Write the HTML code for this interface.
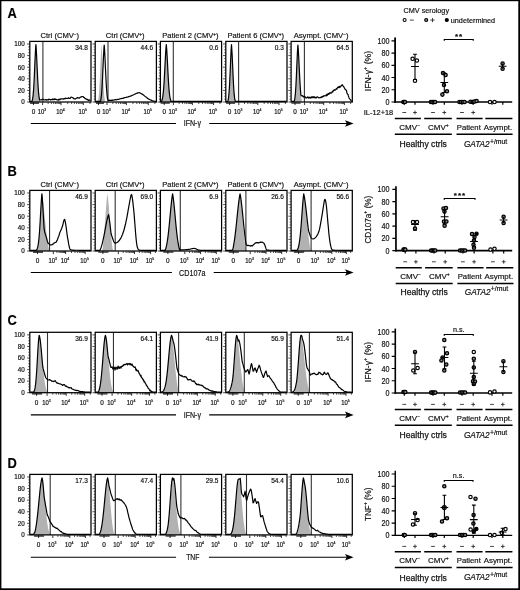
<!DOCTYPE html>
<html lang="en">
<head>
<meta charset="utf-8">
<title>Figure: NK cell responses and CMV serology</title>
<style>
html,body{margin:0;padding:0;background:#fff;}
body{width:520px;height:590px;overflow:hidden;}
svg{display:block;}
svg text{font-family:"Liberation Sans", sans-serif;stroke:#111;stroke-width:0.18px;}
</style>
</head>
<body>
<svg width="520" height="590" viewBox="0 0 520 590" font-family='"Liberation Sans", sans-serif' fill="#111">
<rect x="0" y="0" width="520" height="590" fill="#fff"/>
<rect x="0" y="0" width="520" height="1.2" fill="#000"/>
<rect x="0" y="0" width="1.4" height="590" fill="#000"/>
<rect x="518.3" y="0" width="1.7" height="590" fill="#000"/>
<rect x="0" y="588.3" width="520" height="1.7" fill="#000"/>
<text x="7.6" y="18.2" font-size="14.3" font-weight="bold" fill="#000" textLength="9.3" lengthAdjust="spacingAndGlyphs">A</text>
<text x="7.6" y="176.3" font-size="14.3" font-weight="bold" fill="#000" textLength="9.3" lengthAdjust="spacingAndGlyphs">B</text>
<text x="7.6" y="325.3" font-size="14.3" font-weight="bold" fill="#000" textLength="9.3" lengthAdjust="spacingAndGlyphs">C</text>
<text x="7.6" y="467.5" font-size="14.3" font-weight="bold" fill="#000" textLength="9.3" lengthAdjust="spacingAndGlyphs">D</text>
<path d="M31.8 101.82 L32.3 100.49 L32.8 97.78 L33.3 93.26 L33.8 86.29 L34.3 76.6 L34.8 65.04 L35.3 53.81 L35.9 44.5 L36.3 49.84 L36.8 59.71 L37.3 71.03 L37.8 81.45 L38.3 89.55 L38.8 95.13 L39.3 98.66 L39.8 100.76 L40.3 101.81 L40.3 102 L31.8 102 Z" fill="#b2b2b2" stroke="none"/>
<line x1="42.9" y1="41.4" x2="42.9" y2="102" stroke="#333" stroke-width="1.1"/>
<path d="M30.6 101.4 L31.1 101.4 L31.6 101.4 L32.1 101.18 L32.6 99.05 L33.1 95.33 L33.6 89.41 L34.1 80.78 L34.6 69.77 L35.1 58.08 L35.6 48.38 L35.9 44.5 L36.1 46.83 L36.6 55.44 L37.1 66.49 L37.6 77.51 L38.1 86.63 L38.6 93.18 L39.1 97.45 L39.6 100.06 L40.1 99.87 L40.6 99.79 L41.1 99.79 L41.6 99.91 L42.1 99.26 L42.6 99.12 L43.1 99.31 L43.6 99.4 L44.1 99.72 L44.6 100.01 L45.1 99.77 L45.6 99.66 L46.1 100.18 L46.6 99.51 L47.1 99.99 L47.6 99.96 L48.1 100.11 L48.6 99.22 L49.1 99.43 L49.6 99.28 L50.1 99.49 L50.6 99.97 L51.1 99.67 L51.6 99.47 L52.1 99.78 L52.6 98.99 L53.1 99.47 L53.6 99.62 L54.1 98.99 L54.6 99.57 L55.1 98.83 L55.6 99.36 L56.1 99.37 L56.6 99.66 L57.1 99.63 L57.6 100 L58.1 100.2 L58.6 99.35 L59.1 99.82 L59.6 99.23 L60.1 99.65 L60.6 98.9 L61.1 98.9 L61.6 98.96 L62.1 98.88 L62.6 98.98 L63.1 98.77 L63.6 99.22 L64.1 98.8 L64.6 98.39 L65.1 98.86 L65.6 98.16 L66.1 98.14 L66.6 98.52 L67.1 98.51 L67.6 98.38 L68.1 98.39 L68.6 97.76 L69.1 98.24 L69.6 98.49 L70.1 98.32 L70.6 97.54 L71.1 97.07 L71.6 97.29 L72.1 97.42 L72.6 97.72 L73.1 97.89 L73.6 98.69 L74.1 98.54 L74.6 98.79 L75.1 98.82 L75.6 98.89 L76.1 98.56 L76.6 98.12 L77.1 97.54 L77.6 97.99 L78.1 97.7 L78.6 97.91 L79.1 98.05 L79.6 98.03 L80.1 97.27 L80.6 97.05 L81.1 97.16 L81.6 96.63 L82.1 96.48 L82.6 96.48 L83.1 96.63 L83.6 97.38 L84.1 97.32 L84.6 97.81 L85.1 98.56 L85.6 98.5 L86.1 99.05 L86.6 99.35 L87.1 99.67 L87.6 99.3 L88.1 100.13 L88.6 100.36 L89.1 99.83 L89.6 100 L90.1 100.4" fill="none" stroke="#000" stroke-width="1.2" stroke-linejoin="round" stroke-linecap="round"/>
<rect x="29.8" y="41.4" width="61.2" height="60.6" fill="none" stroke="#000" stroke-width="1.25"/>
<path d="M29.4 102h-2.3M29.4 99.1h-1.1M29.4 96.2h-1.1M29.4 93.3h-1.1M29.4 90.4h-2.3M29.4 87.5h-1.1M29.4 84.6h-1.1M29.4 81.7h-1.1M29.4 78.8h-2.3M29.4 75.9h-1.1M29.4 73h-1.1M29.4 70.1h-1.1M29.4 67.2h-2.3M29.4 64.3h-1.1M29.4 61.4h-1.1M29.4 58.5h-1.1M29.4 55.6h-2.3M29.4 52.7h-1.1M29.4 49.8h-1.1M29.4 46.9h-1.1M29.4 44h-2.3" stroke="#000" stroke-width="0.7" fill="none"/>
<text x="24.7" y="104.3" font-size="6.3" text-anchor="end">0</text>
<text x="24.7" y="92.7" font-size="6.3" text-anchor="end">20</text>
<text x="24.7" y="81.1" font-size="6.3" text-anchor="end">40</text>
<text x="24.7" y="69.5" font-size="6.3" text-anchor="end">60</text>
<text x="24.7" y="57.9" font-size="6.3" text-anchor="end">80</text>
<text x="24.7" y="46.3" font-size="6.3" text-anchor="end">100</text>
<path d="M33.5 102.4v2.7M42.6 102.4v2.7M61 102.4v2.7M83.3 102.4v2.7M48.14 102.4v1.5M51.38 102.4v1.5M53.68 102.4v1.5M55.46 102.4v1.5M56.92 102.4v1.5M58.15 102.4v1.5M59.22 102.4v1.5M60.16 102.4v1.5M67.71 102.4v1.5M71.64 102.4v1.5M74.43 102.4v1.5M76.59 102.4v1.5M78.35 102.4v1.5M79.85 102.4v1.5M81.14 102.4v1.5M82.28 102.4v1.5M90.01 102.4v1.5M30.5 102.4v1.5M31.5 102.4v1.5M32.5 102.4v1.5M33.5 102.4v1.5M34.5 102.4v1.5M35.5 102.4v1.5M36.5 102.4v1.5M37.5 102.4v1.5M38.5 102.4v1.5" stroke="#000" stroke-width="0.8" fill="none"/>
<text x="33.5" y="113.7" font-size="6.4" text-anchor="middle">0</text>
<text x="42" y="113.7" font-size="6.4" text-anchor="middle" textLength="8.5" lengthAdjust="spacingAndGlyphs">10<tspan font-size="3.8" dy="-2.9">3</tspan></text>
<text x="60.4" y="113.7" font-size="6.4" text-anchor="middle" textLength="8.5" lengthAdjust="spacingAndGlyphs">10<tspan font-size="3.8" dy="-2.9">4</tspan></text>
<text x="82.7" y="113.7" font-size="6.4" text-anchor="middle" textLength="8.5" lengthAdjust="spacingAndGlyphs">10<tspan font-size="3.8" dy="-2.9">5</tspan></text>
<text x="87.8" y="50" font-size="6.5" text-anchor="end">34.8</text>
<text x="59.8" y="38.3" font-size="8" text-anchor="middle" textLength="38.6" lengthAdjust="spacingAndGlyphs" stroke="#111" stroke-width="0.12">Ctrl (CMV<tspan font-size="5" dy="-2.8">−</tspan><tspan dy="2.8">)</tspan></text>
<path d="M97.7 101.81 L98.2 100.11 L98.7 96.57 L99.2 90.76 L99.7 82.12 L100.2 70.85 L100.7 58.67 L101.2 48.51 L101.5 44.5 L101.7 46.97 L102.2 56.37 L102.7 68.4 L103.2 80.04 L103.7 89.27 L104.2 95.61 L104.7 99.56 L105.2 101.64 L105.2 102 L97.7 102 Z" fill="#b2b2b2" stroke="none"/>
<line x1="108" y1="41.4" x2="108" y2="102" stroke="#333" stroke-width="1.1"/>
<path d="M96 101.4 L96.5 101.4 L97 101.4 L97.5 101.4 L98 101.4 L98.5 101.4 L99 101.4 L99.5 101.4 L100 101.4 L100.5 101.18 L101 98.78 L101.5 94.62 L102 88.14 L102.5 78.97 L103 67.69 L103.5 56.25 L104 47.36 L104.2 45 L104.5 48.67 L105 57.85 L105.5 69.03 L106 79.79 L106.5 88.47 L107 94.62 L107.5 98.62 L108 100.12 L108.5 100.44 L109 100.49 L109.5 100.1 L110 100.43 L110.5 100.45 L111 100.24 L111.5 100.36 L112 100.14 L112.5 100.34 L113 99.99 L113.5 100.18 L114 100.01 L114.5 99.81 L115 99.85 L115.5 99.69 L116 99.72 L116.5 99.88 L117 99.45 L117.5 99.46 L118 99.48 L118.5 99.42 L119 99.06 L119.5 99.07 L120 98.82 L120.5 98.77 L121 98.57 L121.5 98.6 L122 98.42 L122.5 98.33 L123 98.35 L123.5 97.94 L124 98.08 L124.5 97.74 L125 97.52 L125.5 97.49 L126 97.54 L126.5 97.12 L127 97.03 L127.5 97.08 L128 96.98 L128.5 96.65 L129 96.72 L129.5 96.23 L130 96.26 L130.5 96.13 L131 96.04 L131.5 95.69 L132 95.33 L132.5 95.33 L133 95.05 L133.5 94.72 L134 94.58 L134.5 94.24 L135 94.04 L135.5 93.87 L136 93.55 L136.5 93.39 L137 93.39 L137.5 92.85 L138 92.94 L138.5 92.73 L139 92.72 L139.5 92.72 L140 92.91 L140.5 93.3 L141 93.57 L141.5 93.93 L142 93.84 L142.5 94.48 L143 94.68 L143.5 95.11 L144 95.47 L144.5 95.86 L145 96.32 L145.5 96.79 L146 96.99 L146.5 97.28 L147 97.74 L147.5 98.32 L148 98.52 L148.5 99.08 L149 99.24 L149.5 99.37 L150 99.63 L150.5 100.02 L151 100.06 L151.5 100.4 L152 100.6 L152.5 100.8 L153 101 L153.5 101.08 L154 101.16 L154.5 101.24 L155 101.32 L155.5 101.4" fill="none" stroke="#000" stroke-width="1.2" stroke-linejoin="round" stroke-linecap="round"/>
<rect x="95.2" y="41.4" width="61.2" height="60.6" fill="none" stroke="#000" stroke-width="1.25"/>
<path d="M94.8 102h-2.3M94.8 99.1h-1.1M94.8 96.2h-1.1M94.8 93.3h-1.1M94.8 90.4h-2.3M94.8 87.5h-1.1M94.8 84.6h-1.1M94.8 81.7h-1.1M94.8 78.8h-2.3M94.8 75.9h-1.1M94.8 73h-1.1M94.8 70.1h-1.1M94.8 67.2h-2.3M94.8 64.3h-1.1M94.8 61.4h-1.1M94.8 58.5h-1.1M94.8 55.6h-2.3M94.8 52.7h-1.1M94.8 49.8h-1.1M94.8 46.9h-1.1M94.8 44h-2.3" stroke="#000" stroke-width="0.7" fill="none"/>
<path d="M98.5 102.4v2.7M107 102.4v2.7M126.4 102.4v2.7M148.3 102.4v2.7M112.84 102.4v1.5M116.26 102.4v1.5M118.68 102.4v1.5M120.56 102.4v1.5M122.1 102.4v1.5M123.39 102.4v1.5M124.52 102.4v1.5M125.51 102.4v1.5M132.99 102.4v1.5M136.85 102.4v1.5M139.59 102.4v1.5M141.71 102.4v1.5M143.44 102.4v1.5M144.91 102.4v1.5M146.18 102.4v1.5M147.3 102.4v1.5M154.89 102.4v1.5M96.5 102.4v1.5M97.5 102.4v1.5M98.5 102.4v1.5M99.5 102.4v1.5M100.5 102.4v1.5M101.5 102.4v1.5M102.5 102.4v1.5M103.5 102.4v1.5" stroke="#000" stroke-width="0.8" fill="none"/>
<text x="98.5" y="113.7" font-size="6.4" text-anchor="middle">0</text>
<text x="106.4" y="113.7" font-size="6.4" text-anchor="middle" textLength="8.5" lengthAdjust="spacingAndGlyphs">10<tspan font-size="3.8" dy="-2.9">3</tspan></text>
<text x="125.8" y="113.7" font-size="6.4" text-anchor="middle" textLength="8.5" lengthAdjust="spacingAndGlyphs">10<tspan font-size="3.8" dy="-2.9">4</tspan></text>
<text x="147.7" y="113.7" font-size="6.4" text-anchor="middle" textLength="8.5" lengthAdjust="spacingAndGlyphs">10<tspan font-size="3.8" dy="-2.9">5</tspan></text>
<text x="153.2" y="50" font-size="6.5" text-anchor="end">44.6</text>
<text x="125.2" y="38.3" font-size="8" text-anchor="middle" textLength="38.8" lengthAdjust="spacingAndGlyphs" stroke="#111" stroke-width="0.12">Ctrl (CMV<tspan font-size="5" dy="-2.8">+</tspan><tspan dy="2.8">)</tspan></text>
<path d="M161.4 101.57 L161.9 100.52 L162.4 98.71 L162.9 95.84 L163.4 91.49 L163.9 85.25 L164.4 77.01 L164.9 67.31 L165.4 57.44 L165.9 49.1 L166.3 44.5 L166.9 52.15 L167.4 61.31 L167.9 71.3 L168.4 80.52 L168.9 87.96 L169.4 93.38 L169.9 97.06 L170.4 99.45 L170.9 100.93 L171.4 101.75 L171.4 102 L161.4 102 Z" fill="#b2b2b2" stroke="none"/>
<line x1="173.3" y1="41.4" x2="173.3" y2="102" stroke="#333" stroke-width="1.1"/>
<path d="M161.2 101.4 L161.7 101.02 L162.2 99.54 L162.7 97.14 L163.2 93.43 L163.7 87.99 L164.2 80.53 L164.7 71.3 L165.2 61.3 L165.7 52.14 L166.3 44.5 L166.7 49.11 L167.2 57.45 L167.7 67.32 L168.2 77.01 L168.7 85.22 L169.2 91.44 L169.7 95.77 L170.2 98.62 L170.7 100.43 L171.2 101.4 L171.7 101.4 L172.2 101.4 L172.7 101.4 L173.2 101.4 L173.7 101.4 L174.2 101.4 L174.7 101.4 L175.2 101.4 L175.7 101.4 L176.2 101.4 L176.7 101.4 L177.2 101.4 L177.7 101.4 L178.2 101.4 L178.7 101.4 L179.2 101.4 L179.7 101.4 L180.2 101.4 L180.7 101.4 L181.2 101.4 L181.7 101.4 L182.2 101.4 L182.7 101.4 L183.2 101.4 L183.7 101.4 L184.2 101.4 L184.7 101.4 L185.2 101.4 L185.7 101.4 L186.2 101.4 L186.7 101.4 L187.2 101.4 L187.7 101.4 L188.2 101.4 L188.7 101.4 L189.2 101.4 L189.7 101.4 L190.2 101.4 L190.7 101.4 L191.2 101.4 L191.7 101.4 L192.2 101.4 L192.7 101.4 L193.2 101.4 L193.7 101.4 L194.2 101.4 L194.7 101.4 L195.2 101.4 L195.7 101.4 L196.2 101.4 L196.7 101.4 L197.2 101.4 L197.7 101.4 L198.2 101.4 L198.7 101.4 L199.2 101.4 L199.7 101.4 L200.2 101.4 L200.7 101.4 L201.2 101.4 L201.7 101.4 L202.2 101.4 L202.7 101.4 L203.2 101.4 L203.7 101.4 L204.2 101.4 L204.7 101.4 L205.2 101.4 L205.7 101.4 L206.2 101.4 L206.7 101.4 L207.2 101.4 L207.7 101.4 L208.2 101.4 L208.7 101.4 L209.2 101.4 L209.7 101.4 L210.2 101.4 L210.7 101.4 L211.2 101.4 L211.7 101.4 L212.2 101.4 L212.7 101.4 L213.2 101.4 L213.7 101.4 L214.2 101.4 L214.7 101.4 L215.2 101.4 L215.7 101.4 L216.2 101.4 L216.7 101.4 L217.2 101.4 L217.7 101.4 L218.2 101.4 L218.7 101.4 L219.2 101.4 L219.7 101.4 L220.2 101.4 L220.7 101.4" fill="none" stroke="#000" stroke-width="1.2" stroke-linejoin="round" stroke-linecap="round"/>
<rect x="160.4" y="41.4" width="61.2" height="60.6" fill="none" stroke="#000" stroke-width="1.25"/>
<path d="M160 102h-2.3M160 99.1h-1.1M160 96.2h-1.1M160 93.3h-1.1M160 90.4h-2.3M160 87.5h-1.1M160 84.6h-1.1M160 81.7h-1.1M160 78.8h-2.3M160 75.9h-1.1M160 73h-1.1M160 70.1h-1.1M160 67.2h-2.3M160 64.3h-1.1M160 61.4h-1.1M160 58.5h-1.1M160 55.6h-2.3M160 52.7h-1.1M160 49.8h-1.1M160 46.9h-1.1M160 44h-2.3" stroke="#000" stroke-width="0.7" fill="none"/>
<path d="M164.2 102.4v2.7M173.4 102.4v2.7M192.4 102.4v2.7M213.6 102.4v2.7M179.12 102.4v1.5M182.47 102.4v1.5M184.84 102.4v1.5M186.68 102.4v1.5M188.18 102.4v1.5M189.46 102.4v1.5M190.56 102.4v1.5M191.53 102.4v1.5M198.78 102.4v1.5M202.51 102.4v1.5M205.16 102.4v1.5M207.22 102.4v1.5M208.9 102.4v1.5M210.32 102.4v1.5M211.55 102.4v1.5M212.63 102.4v1.5M219.98 102.4v1.5M161.2 102.4v1.5M162.2 102.4v1.5M163.2 102.4v1.5M164.2 102.4v1.5M165.2 102.4v1.5M166.2 102.4v1.5M167.2 102.4v1.5M168.2 102.4v1.5M169.2 102.4v1.5" stroke="#000" stroke-width="0.8" fill="none"/>
<text x="164.2" y="113.7" font-size="6.4" text-anchor="middle">0</text>
<text x="172.8" y="113.7" font-size="6.4" text-anchor="middle" textLength="8.5" lengthAdjust="spacingAndGlyphs">10<tspan font-size="3.8" dy="-2.9">3</tspan></text>
<text x="191.8" y="113.7" font-size="6.4" text-anchor="middle" textLength="8.5" lengthAdjust="spacingAndGlyphs">10<tspan font-size="3.8" dy="-2.9">4</tspan></text>
<text x="213" y="113.7" font-size="6.4" text-anchor="middle" textLength="8.5" lengthAdjust="spacingAndGlyphs">10<tspan font-size="3.8" dy="-2.9">5</tspan></text>
<text x="218.4" y="50" font-size="6.5" text-anchor="end">0.6</text>
<text x="190.4" y="38.3" font-size="8" text-anchor="middle" textLength="56.3" lengthAdjust="spacingAndGlyphs" stroke="#111" stroke-width="0.12">Patient 2 (CMV<tspan font-size="5" dy="-2.8">+</tspan><tspan dy="2.8">)</tspan></text>
<path d="M227.8 101.5 L228.3 99.38 L228.8 95.48 L229.3 89.2 L229.8 80.02 L230.3 68.41 L230.8 56.4 L231.5 44.5 L231.8 48.37 L232.3 58.06 L232.8 69.77 L233.3 80.8 L233.8 89.47 L234.3 95.44 L234.8 99.2 L235.3 101.32 L235.3 102 L227.8 102 Z" fill="#b2b2b2" stroke="none"/>
<line x1="238.6" y1="41.4" x2="238.6" y2="102" stroke="#333" stroke-width="1.1"/>
<path d="M226.6 101.4 L227.1 101.4 L227.6 101.4 L228.1 100.42 L228.6 97.28 L229.1 92.04 L229.6 84.04 L230.1 73.25 L230.6 61.06 L231.1 50.26 L231.5 44.5 L232.1 53.79 L232.6 65.02 L233.1 76.61 L233.6 86.34 L234.1 93.36 L234.6 97.92 L235.1 100.64 L235.6 101.4 L236.1 101.4 L236.6 101.4 L237.1 101.4 L237.6 101.4 L238.1 101.4 L238.6 101.4 L239.1 101.4 L239.6 101.4 L240.1 101.4 L240.6 101.4 L241.1 101.4 L241.6 101.4 L242.1 101.4 L242.6 101.4 L243.1 101.4 L243.6 101.4 L244.1 101.4 L244.6 101.4 L245.1 101.4 L245.6 101.4 L246.1 101.4 L246.6 101.4 L247.1 101.4 L247.6 101.4 L248.1 101.4 L248.6 101.4 L249.1 101.4 L249.6 101.4 L250.1 101.4 L250.6 101.4 L251.1 101.4 L251.6 101.4 L252.1 101.4 L252.6 101.4 L253.1 101.4 L253.6 101.4 L254.1 101.4 L254.6 101.4 L255.1 101.4 L255.6 101.4 L256.1 101.4 L256.6 101.4 L257.1 101.4 L257.6 101.4 L258.1 101.4 L258.6 101.4 L259.1 101.4 L259.6 101.4 L260.1 101.4 L260.6 101.4 L261.1 101.4 L261.6 101.4 L262.1 101.4 L262.6 101.4 L263.1 101.4 L263.6 101.4 L264.1 101.4 L264.6 101.4 L265.1 101.4 L265.6 101.4 L266.1 101.4 L266.6 101.4 L267.1 101.4 L267.6 101.4 L268.1 101.4 L268.6 101.4 L269.1 101.4 L269.6 101.4 L270.1 101.4 L270.6 101.4 L271.1 101.4 L271.6 101.4 L272.1 101.4 L272.6 101.4 L273.1 101.4 L273.6 101.4 L274.1 101.4 L274.6 101.4 L275.1 101.4 L275.6 101.4 L276.1 101.4 L276.6 101.4 L277.1 101.4 L277.6 101.4 L278.1 101.4 L278.6 101.4 L279.1 101.4 L279.6 101.4 L280.1 101.4 L280.6 101.4 L281.1 101.4 L281.6 101.4 L282.1 101.4 L282.6 101.4 L283.1 101.4 L283.6 101.4 L284.1 101.4 L284.6 101.4 L285.1 101.4 L285.6 101.4 L286.1 101.4" fill="none" stroke="#000" stroke-width="1.2" stroke-linejoin="round" stroke-linecap="round"/>
<rect x="225.8" y="41.4" width="61.2" height="60.6" fill="none" stroke="#000" stroke-width="1.25"/>
<path d="M225.4 102h-2.3M225.4 99.1h-1.1M225.4 96.2h-1.1M225.4 93.3h-1.1M225.4 90.4h-2.3M225.4 87.5h-1.1M225.4 84.6h-1.1M225.4 81.7h-1.1M225.4 78.8h-2.3M225.4 75.9h-1.1M225.4 73h-1.1M225.4 70.1h-1.1M225.4 67.2h-2.3M225.4 64.3h-1.1M225.4 61.4h-1.1M225.4 58.5h-1.1M225.4 55.6h-2.3M225.4 52.7h-1.1M225.4 49.8h-1.1M225.4 46.9h-1.1M225.4 44h-2.3" stroke="#000" stroke-width="0.7" fill="none"/>
<path d="M229.6 102.4v2.7M238.8 102.4v2.7M257.8 102.4v2.7M279 102.4v2.7M244.52 102.4v1.5M247.87 102.4v1.5M250.24 102.4v1.5M252.08 102.4v1.5M253.58 102.4v1.5M254.86 102.4v1.5M255.96 102.4v1.5M256.93 102.4v1.5M264.18 102.4v1.5M267.91 102.4v1.5M270.56 102.4v1.5M272.62 102.4v1.5M274.3 102.4v1.5M275.72 102.4v1.5M276.95 102.4v1.5M278.03 102.4v1.5M285.38 102.4v1.5M226.6 102.4v1.5M227.6 102.4v1.5M228.6 102.4v1.5M229.6 102.4v1.5M230.6 102.4v1.5M231.6 102.4v1.5M232.6 102.4v1.5M233.6 102.4v1.5M234.6 102.4v1.5" stroke="#000" stroke-width="0.8" fill="none"/>
<text x="229.6" y="113.7" font-size="6.4" text-anchor="middle">0</text>
<text x="238.2" y="113.7" font-size="6.4" text-anchor="middle" textLength="8.5" lengthAdjust="spacingAndGlyphs">10<tspan font-size="3.8" dy="-2.9">3</tspan></text>
<text x="257.2" y="113.7" font-size="6.4" text-anchor="middle" textLength="8.5" lengthAdjust="spacingAndGlyphs">10<tspan font-size="3.8" dy="-2.9">4</tspan></text>
<text x="278.4" y="113.7" font-size="6.4" text-anchor="middle" textLength="8.5" lengthAdjust="spacingAndGlyphs">10<tspan font-size="3.8" dy="-2.9">5</tspan></text>
<text x="283.8" y="50" font-size="6.5" text-anchor="end">0.3</text>
<text x="255.8" y="38.3" font-size="8" text-anchor="middle" textLength="56.6" lengthAdjust="spacingAndGlyphs" stroke="#111" stroke-width="0.12">Patient 6 (CMV<tspan font-size="5" dy="-2.8">+</tspan><tspan dy="2.8">)</tspan></text>
<path d="M294.1 101.73 L294.6 99.95 L295.1 96.47 L295.6 90.78 L296.1 82.26 L296.6 71.12 L297.1 59.07 L297.6 48.99 L297.9 45 L298.1 47.09 L298.6 54.86 L299.1 65.02 L299.6 75.54 L300.1 84.73 L300.6 91.76 L301.1 96.67 L301.6 99.87 L302.1 101.64 L302.1 102 L294.1 102 Z" fill="#b2b2b2" stroke="none"/>
<line x1="304.4" y1="41.4" x2="304.4" y2="102" stroke="#333" stroke-width="1.1"/>
<path d="M291.9 101.4 L292.4 101.4 L292.9 101.4 L293.4 101.4 L293.9 101.4 L294.4 100.85 L294.9 98.09 L295.4 93.37 L295.9 86.02 L296.4 75.82 L296.9 63.83 L297.4 52.59 L297.9 45 L298.4 51.37 L298.9 60.79 L299.4 71.42 L299.9 81.29 L300.4 89.22 L300.9 94.94 L301.4 95.83 L301.9 95.59 L302.4 96.12 L302.9 95.81 L303.4 96.96 L303.9 96.5 L304.4 96.85 L304.9 96.72 L305.4 96.96 L305.9 98.03 L306.4 97.84 L306.9 97.8 L307.4 96.96 L307.9 97.22 L308.4 98.04 L308.9 97.11 L309.4 97.99 L309.9 97.28 L310.4 97.93 L310.9 98.07 L311.4 96.81 L311.9 97.69 L312.4 97.65 L312.9 96.53 L313.4 96.76 L313.9 97.67 L314.4 96.83 L314.9 97.53 L315.4 97.43 L315.9 98.19 L316.4 97.13 L316.9 97.41 L317.4 96.96 L317.9 97 L318.4 97.76 L318.9 97.61 L319.4 97.79 L319.9 97.72 L320.4 97.73 L320.9 97.3 L321.4 96.78 L321.9 97.52 L322.4 96.39 L322.9 96.67 L323.4 96.51 L323.9 95.59 L324.4 95.91 L324.9 95.99 L325.4 95.61 L325.9 95.14 L326.4 95.8 L326.9 94.24 L327.4 95.3 L327.9 94.01 L328.4 93.56 L328.9 94.39 L329.4 92.99 L329.9 93.25 L330.4 92.69 L330.9 93.24 L331.4 92.93 L331.9 92.5 L332.4 91.08 L332.9 91.79 L333.4 90.66 L333.9 90.07 L334.4 89.74 L334.9 90.28 L335.4 89.96 L335.9 89.43 L336.4 88.64 L336.9 89.11 L337.4 87.75 L337.9 87.32 L338.4 86.9 L338.9 87.72 L339.4 86.27 L339.9 87.33 L340.4 86.85 L340.9 86.07 L341.4 85.17 L341.9 85.52 L342.4 84.85 L342.9 85.68 L343.4 86.46 L343.9 86.96 L344.4 87.93 L344.9 88.92 L345.4 89.71 L345.9 89.86 L346.4 90.48 L346.9 92.75 L347.4 94.13 L347.9 94.07 L348.4 95.95 L348.9 97.38 L349.4 98.67 L349.9 99.17 L350.4 99.5 L350.9 100.52 L351.4 101.09" fill="none" stroke="#000" stroke-width="1.2" stroke-linejoin="round" stroke-linecap="round"/>
<rect x="291.1" y="41.4" width="61.2" height="60.6" fill="none" stroke="#000" stroke-width="1.25"/>
<path d="M290.7 102h-2.3M290.7 99.1h-1.1M290.7 96.2h-1.1M290.7 93.3h-1.1M290.7 90.4h-2.3M290.7 87.5h-1.1M290.7 84.6h-1.1M290.7 81.7h-1.1M290.7 78.8h-2.3M290.7 75.9h-1.1M290.7 73h-1.1M290.7 70.1h-1.1M290.7 67.2h-2.3M290.7 64.3h-1.1M290.7 61.4h-1.1M290.7 58.5h-1.1M290.7 55.6h-2.3M290.7 52.7h-1.1M290.7 49.8h-1.1M290.7 46.9h-1.1M290.7 44h-2.3" stroke="#000" stroke-width="0.7" fill="none"/>
<path d="M295 102.4v2.7M304.6 102.4v2.7M323.7 102.4v2.7M344.4 102.4v2.7M310.35 102.4v1.5M313.71 102.4v1.5M316.1 102.4v1.5M317.95 102.4v1.5M319.46 102.4v1.5M320.74 102.4v1.5M321.85 102.4v1.5M322.83 102.4v1.5M329.93 102.4v1.5M333.58 102.4v1.5M336.16 102.4v1.5M338.17 102.4v1.5M339.81 102.4v1.5M341.19 102.4v1.5M342.39 102.4v1.5M343.45 102.4v1.5M350.63 102.4v1.5M292 102.4v1.5M293 102.4v1.5M294 102.4v1.5M295 102.4v1.5M296 102.4v1.5M297 102.4v1.5M298 102.4v1.5M299 102.4v1.5M300 102.4v1.5" stroke="#000" stroke-width="0.8" fill="none"/>
<text x="295" y="113.7" font-size="6.4" text-anchor="middle">0</text>
<text x="304" y="113.7" font-size="6.4" text-anchor="middle" textLength="8.5" lengthAdjust="spacingAndGlyphs">10<tspan font-size="3.8" dy="-2.9">3</tspan></text>
<text x="323.1" y="113.7" font-size="6.4" text-anchor="middle" textLength="8.5" lengthAdjust="spacingAndGlyphs">10<tspan font-size="3.8" dy="-2.9">4</tspan></text>
<text x="343.8" y="113.7" font-size="6.4" text-anchor="middle" textLength="8.5" lengthAdjust="spacingAndGlyphs">10<tspan font-size="3.8" dy="-2.9">5</tspan></text>
<text x="349.1" y="50" font-size="6.5" text-anchor="end">64.5</text>
<text x="321.1" y="38.3" font-size="8" text-anchor="middle" textLength="54.9" lengthAdjust="spacingAndGlyphs" stroke="#111" stroke-width="0.12">Asympt. (CMV<tspan font-size="5" dy="-2.8">−</tspan><tspan dy="2.8">)</tspan></text>
<path d="M30.8 123.5 H176 M209.2 123.5 H347" stroke="#000" stroke-width="1.15" fill="none"/>
<path d="M353.6 123.5 L345 120.2 L346.8 123.5 L345 126.8 Z" fill="#000"/>
<text x="192.35" y="126.3" font-size="8.9" text-anchor="middle" textLength="17.3" lengthAdjust="spacingAndGlyphs" stroke="#111" stroke-width="0.2">IFN-γ</text>
<path d="M35.8 250.79 L36.3 250.34 L36.8 249.58 L37.3 248.39 L37.8 246.6 L38.3 243.94 L38.8 240.06 L39.3 234.6 L39.8 227.42 L40.3 218.84 L40.8 209.72 L41.3 201.31 L41.9 193.8 L42.3 195.8 L42.8 199.03 L43.3 202.97 L43.8 207.47 L44.3 212.35 L44.8 217.39 L45.3 222.4 L45.8 227.23 L46.3 231.74 L46.8 235.86 L47.3 239.57 L47.8 242.85 L48.3 245.72 L48.8 248.2 L49.3 249.93 L49.8 250.32 L50.3 250.58 L50.8 250.75 L50.8 251 L35.8 251 Z" fill="#b2b2b2" stroke="none"/>
<line x1="49.55" y1="190.4" x2="49.55" y2="251" stroke="#333" stroke-width="1.1"/>
<path d="M30.6 250.4 L31.1 250.4 L31.6 250.4 L32.1 250.4 L32.6 250.4 L33.1 250.4 L33.6 250.4 L34.1 250.4 L34.6 250.4 L35.1 250.4 L35.6 250.4 L36.1 250.4 L36.6 249.93 L37.1 248.92 L37.6 247.4 L38.1 245.13 L38.6 241.78 L39.1 236.99 L39.6 230.49 L40.1 222.4 L40.6 213.36 L41.1 204.5 L41.6 197.12 L41.9 193.8 L42.1 195.91 L42.6 202.87 L43.1 211.53 L43.6 220.64 L44.1 228.99 L44.6 231.53 L45.1 233.49 L45.6 234.92 L46.1 236.58 L46.6 238.27 L47.1 240.27 L47.6 241.72 L48.1 243.21 L48.6 243.56 L49.1 243.96 L49.6 244.62 L50.1 244.95 L50.6 244.89 L51.1 244.9 L51.6 244.93 L52.1 244.74 L52.6 244.19 L53.1 244.08 L53.6 243.7 L54.1 242.95 L54.6 242.9 L55.1 242.49 L55.6 242.37 L56.1 242.16 L56.6 241.16 L57.1 240.47 L57.6 239.24 L58.1 237.6 L58.6 236.53 L59.1 235.25 L59.6 233.15 L60.1 231.9 L60.6 230.84 L61.1 229.75 L61.6 228.65 L62.1 227.04 L62.6 225.78 L63.1 223.62 L63.6 221.67 L64.1 219.93 L64.6 219.27 L65.1 220.83 L65.6 223.53 L66.1 226.83 L66.6 230.77 L67.1 234.55 L67.6 237.82 L68.1 240.45 L68.6 243.69 L69.1 246.12 L69.6 248.15 L70.1 249.37 L70.6 249.56 L71.1 249.79 L71.6 250.02 L72.1 250.2 L72.6 250.21 L73.1 250.21 L73.6 250.22 L74.1 250.22 L74.6 250.23 L75.1 250.23 L75.6 250.24 L76.1 250.25 L76.6 250.25 L77.1 250.26 L77.6 250.26 L78.1 250.27 L78.6 250.27 L79.1 250.28 L79.6 250.28 L80.1 250.29 L80.6 250.3 L81.1 250.3 L81.6 250.31 L82.1 250.31 L82.6 250.32 L83.1 250.32 L83.6 250.33 L84.1 250.33 L84.6 250.34 L85.1 250.35 L85.6 250.35 L86.1 250.36 L86.6 250.36 L87.1 250.37 L87.6 250.37 L88.1 250.38 L88.6 250.38 L89.1 250.39 L89.6 250.4 L90.1 250.4" fill="none" stroke="#000" stroke-width="1.2" stroke-linejoin="round" stroke-linecap="round"/>
<rect x="29.8" y="190.4" width="61.2" height="60.6" fill="none" stroke="#000" stroke-width="1.25"/>
<path d="M29.4 251h-2.3M29.4 248.1h-1.1M29.4 245.2h-1.1M29.4 242.3h-1.1M29.4 239.4h-2.3M29.4 236.5h-1.1M29.4 233.6h-1.1M29.4 230.7h-1.1M29.4 227.8h-2.3M29.4 224.9h-1.1M29.4 222h-1.1M29.4 219.1h-1.1M29.4 216.2h-2.3M29.4 213.3h-1.1M29.4 210.4h-1.1M29.4 207.5h-1.1M29.4 204.6h-2.3M29.4 201.7h-1.1M29.4 198.8h-1.1M29.4 195.9h-1.1M29.4 193h-2.3" stroke="#000" stroke-width="0.7" fill="none"/>
<text x="24.7" y="253.3" font-size="6.3" text-anchor="end">0</text>
<text x="24.7" y="241.7" font-size="6.3" text-anchor="end">20</text>
<text x="24.7" y="230.1" font-size="6.3" text-anchor="end">40</text>
<text x="24.7" y="218.5" font-size="6.3" text-anchor="end">60</text>
<text x="24.7" y="206.9" font-size="6.3" text-anchor="end">80</text>
<text x="24.7" y="195.3" font-size="6.3" text-anchor="end">100</text>
<path d="M37.5 251.4v2.7M53.3 251.4v2.7M65.6 251.4v2.7M85.2 251.4v2.7M57 251.4v1.5M59.17 251.4v1.5M60.71 251.4v1.5M61.9 251.4v1.5M62.87 251.4v1.5M63.69 251.4v1.5M64.41 251.4v1.5M65.04 251.4v1.5M71.5 251.4v1.5M74.95 251.4v1.5M77.4 251.4v1.5M79.3 251.4v1.5M80.85 251.4v1.5M82.16 251.4v1.5M83.3 251.4v1.5M84.3 251.4v1.5M33.5 251.4v1.5M34.5 251.4v1.5M35.5 251.4v1.5M36.5 251.4v1.5M37.5 251.4v1.5M38.5 251.4v1.5M39.5 251.4v1.5M40.5 251.4v1.5M41.5 251.4v1.5M42.5 251.4v1.5" stroke="#000" stroke-width="0.8" fill="none"/>
<text x="37.5" y="262.7" font-size="6.4" text-anchor="middle">0</text>
<text x="52.7" y="262.7" font-size="6.4" text-anchor="middle" textLength="8.5" lengthAdjust="spacingAndGlyphs">10<tspan font-size="3.8" dy="-2.9">3</tspan></text>
<text x="65" y="262.7" font-size="6.4" text-anchor="middle" textLength="8.5" lengthAdjust="spacingAndGlyphs">10<tspan font-size="3.8" dy="-2.9">4</tspan></text>
<text x="84.6" y="262.7" font-size="6.4" text-anchor="middle" textLength="8.5" lengthAdjust="spacingAndGlyphs">10<tspan font-size="3.8" dy="-2.9">5</tspan></text>
<text x="87.8" y="199" font-size="6.5" text-anchor="end">46.9</text>
<text x="59.8" y="187.3" font-size="8" text-anchor="middle" textLength="38.6" lengthAdjust="spacingAndGlyphs" stroke="#111" stroke-width="0.12">Ctrl (CMV<tspan font-size="5" dy="-2.8">−</tspan><tspan dy="2.8">)</tspan></text>
<path d="M101.2 250.72 L101.7 250.43 L102.2 249.9 L102.7 248.41 L103.2 244.01 L103.7 238.96 L104.2 233.16 L104.7 226.64 L105.2 219.59 L105.7 212.4 L106.2 205.58 L106.7 199.7 L107.2 195.23 L107.4 193.9 L107.7 195.81 L108.2 200.11 L108.7 205.58 L109.2 211.85 L109.7 218.48 L110.2 225.05 L110.7 231.22 L111.2 236.82 L111.7 241.77 L112.2 246.12 L112.7 249.4 L113.2 250.09 L113.7 250.51 L114.2 250.75 L114.2 251 L101.2 251 Z" fill="#b2b2b2" stroke="none"/>
<line x1="115.2" y1="190.4" x2="115.2" y2="251" stroke="#333" stroke-width="1.1"/>
<path d="M96 250.4 L96.5 250.4 L97 250.4 L97.5 250.4 L98 250.4 L98.5 250.4 L99 250.4 L99.5 250.4 L100 250.17 L100.5 249.04 L101 247.69 L101.5 246.16 L102 244.45 L102.5 242.54 L103 240.44 L103.5 238.14 L104 235.68 L104.5 233.07 L105 230.37 L105.5 227.63 L106 224.94 L106.5 222.37 L107 220 L107.5 217.89 L108 216.12 L108.55 214.6 L109 216.87 L109.5 220.27 L110 224.36 L110.5 228.81 L111 233.23 L111.5 235.08 L112 236.54 L112.5 238 L113 239.46 L113.5 240.92 L114 242.03 L114.5 242.61 L115 243.18 L115.5 243.15 L116 242.97 L116.5 242.78 L117 242.6 L117.5 242.15 L118 241.7 L118.5 241.25 L119 240.8 L119.5 240.05 L120 239.3 L120.5 238.55 L121 237.8 L121.5 236.71 L122 235.61 L122.5 234.52 L123 233.07 L123.5 231.54 L124 230 L124.5 228 L125 226 L125.5 224 L126 221.69 L126.5 219.38 L127 216.87 L127.5 214.03 L128 211.2 L128.5 208.35 L129 205.5 L129.5 202.75 L130 200 L130.5 197.5 L131 195.4 L131.5 194.5 L132 196 L132.5 199.21 L133 203.29 L133.5 207.99 L134 212.91 L134.5 219.1 L135 225.57 L135.5 232 L136 237.71 L136.5 242.55 L137 245.87 L137.5 247.81 L138 248.84 L138.5 249.64 L139 249.94 L139.5 250.12 L140 250.3 L140.5 250.3 L141 250.31 L141.5 250.31 L142 250.31 L142.5 250.32 L143 250.32 L143.5 250.32 L144 250.33 L144.5 250.33 L145 250.33 L145.5 250.34 L146 250.34 L146.5 250.34 L147 250.35 L147.5 250.35 L148 250.35 L148.5 250.36 L149 250.36 L149.5 250.36 L150 250.37 L150.5 250.37 L151 250.37 L151.5 250.38 L152 250.38 L152.5 250.38 L153 250.39 L153.5 250.39 L154 250.39 L154.5 250.4 L155 250.4 L155.5 250.4" fill="none" stroke="#000" stroke-width="1.2" stroke-linejoin="round" stroke-linecap="round"/>
<rect x="95.2" y="190.4" width="61.2" height="60.6" fill="none" stroke="#000" stroke-width="1.25"/>
<path d="M94.8 251h-2.3M94.8 248.1h-1.1M94.8 245.2h-1.1M94.8 242.3h-1.1M94.8 239.4h-2.3M94.8 236.5h-1.1M94.8 233.6h-1.1M94.8 230.7h-1.1M94.8 227.8h-2.3M94.8 224.9h-1.1M94.8 222h-1.1M94.8 219.1h-1.1M94.8 216.2h-2.3M94.8 213.3h-1.1M94.8 210.4h-1.1M94.8 207.5h-1.1M94.8 204.6h-2.3M94.8 201.7h-1.1M94.8 198.8h-1.1M94.8 195.9h-1.1M94.8 193h-2.3" stroke="#000" stroke-width="0.7" fill="none"/>
<path d="M102.9 251.4v2.7M118.3 251.4v2.7M134.5 251.4v2.7M150.6 251.4v2.7M123.18 251.4v1.5M126.03 251.4v1.5M128.05 251.4v1.5M129.62 251.4v1.5M130.91 251.4v1.5M131.99 251.4v1.5M132.93 251.4v1.5M133.76 251.4v1.5M139.35 251.4v1.5M142.18 251.4v1.5M144.19 251.4v1.5M145.75 251.4v1.5M147.03 251.4v1.5M148.11 251.4v1.5M149.04 251.4v1.5M149.86 251.4v1.5M155.45 251.4v1.5M98.9 251.4v1.5M99.9 251.4v1.5M100.9 251.4v1.5M101.9 251.4v1.5M102.9 251.4v1.5M103.9 251.4v1.5M104.9 251.4v1.5M105.9 251.4v1.5M106.9 251.4v1.5M107.9 251.4v1.5" stroke="#000" stroke-width="0.8" fill="none"/>
<text x="102.9" y="262.7" font-size="6.4" text-anchor="middle">0</text>
<text x="117.7" y="262.7" font-size="6.4" text-anchor="middle" textLength="8.5" lengthAdjust="spacingAndGlyphs">10<tspan font-size="3.8" dy="-2.9">3</tspan></text>
<text x="133.9" y="262.7" font-size="6.4" text-anchor="middle" textLength="8.5" lengthAdjust="spacingAndGlyphs">10<tspan font-size="3.8" dy="-2.9">4</tspan></text>
<text x="150" y="262.7" font-size="6.4" text-anchor="middle" textLength="8.5" lengthAdjust="spacingAndGlyphs">10<tspan font-size="3.8" dy="-2.9">5</tspan></text>
<text x="153.2" y="199" font-size="6.5" text-anchor="end">69.0</text>
<text x="125.2" y="187.3" font-size="8" text-anchor="middle" textLength="38.8" lengthAdjust="spacingAndGlyphs" stroke="#111" stroke-width="0.12">Ctrl (CMV<tspan font-size="5" dy="-2.8">+</tspan><tspan dy="2.8">)</tspan></text>
<path d="M164.4 250.78 L164.9 250.6 L165.4 249.6 L165.9 248.05 L166.4 246.06 L166.9 243.61 L167.4 240.66 L167.9 237.17 L168.4 233.12 L168.9 228.54 L169.4 223.5 L169.9 218.16 L170.4 212.71 L170.9 207.41 L171.4 202.54 L171.9 198.33 L172.6 193.9 L172.9 195.55 L173.4 199.06 L173.9 203.4 L174.4 208.38 L174.9 213.74 L175.4 219.22 L175.9 224.56 L176.4 229.57 L176.9 234.12 L177.4 238.13 L177.9 241.61 L178.4 244.55 L178.9 247.01 L179.4 248.99 L179.9 250.39 L180.4 250.65 L180.9 250.8 L180.9 251 L164.4 251 Z" fill="#b2b2b2" stroke="none"/>
<line x1="180.3" y1="190.4" x2="180.3" y2="251" stroke="#333" stroke-width="1.1"/>
<path d="M161.2 250.4 L161.7 250.4 L162.2 250.4 L162.7 250.4 L163.2 250.4 L163.7 250.4 L164.2 250.4 L164.7 250.4 L165.2 250.09 L165.7 248.72 L166.2 246.91 L166.7 244.64 L167.2 241.9 L167.7 238.63 L168.2 234.81 L168.7 230.43 L169.2 225.56 L169.7 220.32 L170.2 214.88 L170.7 209.5 L171.2 204.42 L171.7 199.92 L172.2 196.21 L172.6 193.9 L173.2 197.54 L173.7 201.57 L174.2 206.33 L174.7 211.57 L175.2 217.03 L175.7 222.45 L176.2 227.61 L176.7 232.36 L177.2 236.59 L177.7 240.28 L178.2 243.44 L178.7 246.08 L179.2 248.26 L179.7 249.93 L180.2 249.98 L180.7 249.97 L181.2 249.95 L181.7 249.94 L182.2 249.92 L182.7 249.91 L183.2 249.88 L183.7 249.85 L184.2 249.81 L184.7 249.77 L185.2 249.73 L185.7 249.7 L186.2 249.66 L186.7 249.62 L187.2 249.57 L187.7 249.51 L188.2 249.44 L188.7 249.37 L189.2 249.31 L189.7 249.24 L190.2 249.15 L190.7 249.03 L191.2 248.91 L191.7 248.79 L192.2 248.67 L192.7 248.58 L193.2 248.52 L193.7 248.47 L194.2 248.41 L194.7 248.49 L195.2 248.61 L195.7 248.73 L196.2 248.91 L196.7 249.17 L197.2 249.44 L197.7 249.66 L198.2 249.81 L198.7 249.97 L199.2 250.12 L199.7 250.27 L200.2 250.3 L200.7 250.3 L201.2 250.31 L201.7 250.31 L202.2 250.31 L202.7 250.31 L203.2 250.32 L203.7 250.32 L204.2 250.32 L204.7 250.32 L205.2 250.33 L205.7 250.33 L206.2 250.33 L206.7 250.33 L207.2 250.34 L207.7 250.34 L208.2 250.34 L208.7 250.34 L209.2 250.35 L209.7 250.35 L210.2 250.35 L210.7 250.35 L211.2 250.36 L211.7 250.36 L212.2 250.36 L212.7 250.36 L213.2 250.37 L213.7 250.37 L214.2 250.37 L214.7 250.37 L215.2 250.38 L215.7 250.38 L216.2 250.38 L216.7 250.38 L217.2 250.39 L217.7 250.39 L218.2 250.39 L218.7 250.39 L219.2 250.4 L219.7 250.4 L220.2 250.4 L220.7 250.4" fill="none" stroke="#000" stroke-width="1.2" stroke-linejoin="round" stroke-linecap="round"/>
<rect x="160.4" y="190.4" width="61.2" height="60.6" fill="none" stroke="#000" stroke-width="1.25"/>
<path d="M160 251h-2.3M160 248.1h-1.1M160 245.2h-1.1M160 242.3h-1.1M160 239.4h-2.3M160 236.5h-1.1M160 233.6h-1.1M160 230.7h-1.1M160 227.8h-2.3M160 224.9h-1.1M160 222h-1.1M160 219.1h-1.1M160 216.2h-2.3M160 213.3h-1.1M160 210.4h-1.1M160 207.5h-1.1M160 204.6h-2.3M160 201.7h-1.1M160 198.8h-1.1M160 195.9h-1.1M160 193h-2.3" stroke="#000" stroke-width="0.7" fill="none"/>
<path d="M167.9 251.4v2.7M184.8 251.4v2.7M200.6 251.4v2.7M216.3 251.4v2.7M189.56 251.4v1.5M192.34 251.4v1.5M194.31 251.4v1.5M195.84 251.4v1.5M197.09 251.4v1.5M198.15 251.4v1.5M199.07 251.4v1.5M199.88 251.4v1.5M205.33 251.4v1.5M208.09 251.4v1.5M210.05 251.4v1.5M211.57 251.4v1.5M212.82 251.4v1.5M213.87 251.4v1.5M214.78 251.4v1.5M215.58 251.4v1.5M221.03 251.4v1.5M163.9 251.4v1.5M164.9 251.4v1.5M165.9 251.4v1.5M166.9 251.4v1.5M167.9 251.4v1.5M168.9 251.4v1.5M169.9 251.4v1.5M170.9 251.4v1.5M171.9 251.4v1.5M172.9 251.4v1.5" stroke="#000" stroke-width="0.8" fill="none"/>
<text x="167.9" y="262.7" font-size="6.4" text-anchor="middle">0</text>
<text x="184.2" y="262.7" font-size="6.4" text-anchor="middle" textLength="8.5" lengthAdjust="spacingAndGlyphs">10<tspan font-size="3.8" dy="-2.9">3</tspan></text>
<text x="200" y="262.7" font-size="6.4" text-anchor="middle" textLength="8.5" lengthAdjust="spacingAndGlyphs">10<tspan font-size="3.8" dy="-2.9">4</tspan></text>
<text x="215.7" y="262.7" font-size="6.4" text-anchor="middle" textLength="8.5" lengthAdjust="spacingAndGlyphs">10<tspan font-size="3.8" dy="-2.9">5</tspan></text>
<text x="218.4" y="199" font-size="6.5" text-anchor="end">6.9</text>
<text x="190.4" y="187.3" font-size="8" text-anchor="middle" textLength="56.3" lengthAdjust="spacingAndGlyphs" stroke="#111" stroke-width="0.12">Patient 2 (CMV<tspan font-size="5" dy="-2.8">+</tspan><tspan dy="2.8">)</tspan></text>
<path d="M230.8 250.77 L231.3 250.63 L231.8 250.39 L232.3 250.05 L232.8 249.54 L233.3 247.12 L233.8 244.31 L234.3 241.16 L234.8 237.63 L235.3 233.72 L235.8 229.44 L236.3 224.84 L236.8 220.02 L237.3 215.1 L237.8 210.25 L238.3 205.64 L238.8 201.47 L239.3 197.89 L239.8 195.03 L240.05 193.9 L240.3 195.33 L240.8 199.11 L241.3 203.96 L241.8 209.59 L242.3 215.67 L242.8 221.84 L243.3 227.8 L243.8 233.34 L244.3 238.34 L244.8 242.78 L245.3 246.72 L245.8 249.47 L246.3 250.1 L246.8 250.49 L247.3 250.73 L247.3 251 L230.8 251 Z" fill="#b2b2b2" stroke="none"/>
<line x1="245.9" y1="190.4" x2="245.9" y2="251" stroke="#333" stroke-width="1.1"/>
<path d="M226.6 250.4 L227.1 250.4 L227.6 250.4 L228.1 250.4 L228.6 250.4 L229.1 250.4 L229.6 250.4 L230.1 250.4 L230.6 250.4 L231.1 250.4 L231.6 250.4 L232.1 250.2 L232.6 249.77 L233.1 248.14 L233.6 245.48 L234.1 242.46 L234.6 239.09 L235.1 235.33 L235.6 231.19 L236.1 226.71 L236.6 221.97 L237.1 217.07 L237.6 212.17 L238.1 207.44 L238.6 203.07 L239.1 199.24 L239.6 196.09 L240.05 193.9 L240.6 196.72 L241.1 200.14 L241.6 204.24 L242.1 208.87 L242.6 213.83 L243.1 218.91 L243.6 223.95 L244.1 228.78 L244.6 233.3 L245.1 237.47 L245.6 241.25 L246.1 244.22 L246.6 245.14 L247.1 245.15 L247.6 245.62 L248.1 245.41 L248.6 245.37 L249.1 245.74 L249.6 245.72 L250.1 245.86 L250.6 246.21 L251.1 245.65 L251.6 245.69 L252.1 245.82 L252.6 245.93 L253.1 244.92 L253.6 244.78 L254.1 244.18 L254.6 243.65 L255.1 243.33 L255.6 242.75 L256.1 242.79 L256.6 242.61 L257.1 242.96 L257.6 242.66 L258.1 242.53 L258.6 242.92 L259.1 242.74 L259.6 242.62 L260.1 242.03 L260.6 242.34 L261.1 242.14 L261.6 242.3 L262.1 242.09 L262.6 242.44 L263.1 242.73 L263.6 242.83 L264.1 243.57 L264.6 244.4 L265.1 245.95 L265.6 247.4 L266.1 248.9 L266.6 249.9 L267.1 250.2 L267.6 250.21 L268.1 250.21 L268.6 250.22 L269.1 250.22 L269.6 250.23 L270.1 250.23 L270.6 250.24 L271.1 250.24 L271.6 250.25 L272.1 250.26 L272.6 250.26 L273.1 250.27 L273.6 250.27 L274.1 250.28 L274.6 250.28 L275.1 250.29 L275.6 250.29 L276.1 250.3 L276.6 250.3 L277.1 250.31 L277.6 250.31 L278.1 250.32 L278.6 250.32 L279.1 250.33 L279.6 250.33 L280.1 250.34 L280.6 250.34 L281.1 250.35 L281.6 250.35 L282.1 250.36 L282.6 250.36 L283.1 250.37 L283.6 250.38 L284.1 250.38 L284.6 250.39 L285.1 250.39 L285.6 250.4 L286.1 250.4" fill="none" stroke="#000" stroke-width="1.2" stroke-linejoin="round" stroke-linecap="round"/>
<rect x="225.8" y="190.4" width="61.2" height="60.6" fill="none" stroke="#000" stroke-width="1.25"/>
<path d="M225.4 251h-2.3M225.4 248.1h-1.1M225.4 245.2h-1.1M225.4 242.3h-1.1M225.4 239.4h-2.3M225.4 236.5h-1.1M225.4 233.6h-1.1M225.4 230.7h-1.1M225.4 227.8h-2.3M225.4 224.9h-1.1M225.4 222h-1.1M225.4 219.1h-1.1M225.4 216.2h-2.3M225.4 213.3h-1.1M225.4 210.4h-1.1M225.4 207.5h-1.1M225.4 204.6h-2.3M225.4 201.7h-1.1M225.4 198.8h-1.1M225.4 195.9h-1.1M225.4 193h-2.3" stroke="#000" stroke-width="0.7" fill="none"/>
<path d="M233.3 251.4v2.7M250.2 251.4v2.7M266 251.4v2.7M281.7 251.4v2.7M254.96 251.4v1.5M257.74 251.4v1.5M259.71 251.4v1.5M261.24 251.4v1.5M262.49 251.4v1.5M263.55 251.4v1.5M264.47 251.4v1.5M265.28 251.4v1.5M270.73 251.4v1.5M273.49 251.4v1.5M275.45 251.4v1.5M276.97 251.4v1.5M278.22 251.4v1.5M279.27 251.4v1.5M280.18 251.4v1.5M280.98 251.4v1.5M286.43 251.4v1.5M229.3 251.4v1.5M230.3 251.4v1.5M231.3 251.4v1.5M232.3 251.4v1.5M233.3 251.4v1.5M234.3 251.4v1.5M235.3 251.4v1.5M236.3 251.4v1.5M237.3 251.4v1.5M238.3 251.4v1.5" stroke="#000" stroke-width="0.8" fill="none"/>
<text x="233.3" y="262.7" font-size="6.4" text-anchor="middle">0</text>
<text x="249.6" y="262.7" font-size="6.4" text-anchor="middle" textLength="8.5" lengthAdjust="spacingAndGlyphs">10<tspan font-size="3.8" dy="-2.9">3</tspan></text>
<text x="265.4" y="262.7" font-size="6.4" text-anchor="middle" textLength="8.5" lengthAdjust="spacingAndGlyphs">10<tspan font-size="3.8" dy="-2.9">4</tspan></text>
<text x="281.1" y="262.7" font-size="6.4" text-anchor="middle" textLength="8.5" lengthAdjust="spacingAndGlyphs">10<tspan font-size="3.8" dy="-2.9">5</tspan></text>
<text x="283.8" y="199" font-size="6.5" text-anchor="end">26.6</text>
<text x="255.8" y="187.3" font-size="8" text-anchor="middle" textLength="56.6" lengthAdjust="spacingAndGlyphs" stroke="#111" stroke-width="0.12">Patient 6 (CMV<tspan font-size="5" dy="-2.8">+</tspan><tspan dy="2.8">)</tspan></text>
<path d="M297.1 250.47 L297.6 249.59 L298.1 248.28 L298.6 246.46 L299.1 244.01 L299.6 240.81 L300.1 236.72 L300.6 231.67 L301.1 225.71 L301.6 219.07 L302.1 212.14 L302.6 205.45 L303.1 199.58 L303.75 193.9 L304.1 195.64 L304.6 198.86 L305.1 202.87 L305.6 207.49 L306.1 212.53 L306.6 217.76 L307.1 222.97 L307.6 227.99 L308.1 232.71 L308.6 237.04 L309.1 240.98 L309.6 244.52 L310.1 247.73 L310.6 249.56 L311.1 250.08 L311.6 250.44 L312.1 250.66 L312.6 250.8 L312.6 251 L297.1 251 Z" fill="#b2b2b2" stroke="none"/>
<line x1="311.1" y1="190.4" x2="311.1" y2="251" stroke="#333" stroke-width="1.1"/>
<path d="M291.9 250.4 L292.4 250.4 L292.9 250.4 L293.4 250.4 L293.9 250.4 L294.4 250.4 L294.9 250.4 L295.4 250.4 L295.9 250.4 L296.4 250.4 L296.9 250.4 L297.4 249.99 L297.9 248.86 L298.4 247.25 L298.9 245.07 L299.4 242.19 L299.9 238.47 L300.4 233.8 L300.9 228.19 L301.4 221.78 L301.9 214.91 L302.4 208.06 L302.9 201.8 L303.4 196.65 L303.75 193.9 L304.4 197.11 L304.9 200.3 L305.4 204.03 L305.9 208.17 L306.4 212.57 L306.9 217.09 L307.4 221.57 L307.9 225.89 L308.4 229.96 L308.9 231.7 L309.4 233.2 L309.9 234.7 L310.4 236.2 L310.9 237.22 L311.4 238.12 L311.9 238.52 L312.4 238.78 L312.9 238.97 L313.4 238.85 L313.9 238.72 L314.4 238.42 L314.9 238.07 L315.4 237.6 L315.9 237.1 L316.4 236.4 L316.9 235.65 L317.4 234.82 L317.9 233.97 L318.4 232.82 L318.9 231.6 L319.4 229.66 L319.9 227.37 L320.4 224.56 L320.9 221.78 L321.4 219 L321.9 216.17 L322.4 213.2 L322.9 209.7 L323.4 206.5 L323.9 203.42 L324.4 200.5 L324.9 199.25 L325.4 200.14 L325.9 202.33 L326.4 206 L326.9 211 L327.4 216.97 L327.9 222.79 L328.4 228 L328.9 233.83 L329.4 238 L329.9 241.59 L330.4 244.51 L330.9 246.66 L331.4 248.61 L331.9 249.48 L332.4 250.08 L332.9 250.2 L333.4 250.21 L333.9 250.22 L334.4 250.22 L334.9 250.23 L335.4 250.23 L335.9 250.24 L336.4 250.24 L336.9 250.25 L337.4 250.25 L337.9 250.26 L338.4 250.26 L338.9 250.27 L339.4 250.27 L339.9 250.28 L340.4 250.29 L340.9 250.29 L341.4 250.3 L341.9 250.3 L342.4 250.31 L342.9 250.31 L343.4 250.32 L343.9 250.32 L344.4 250.33 L344.9 250.33 L345.4 250.34 L345.9 250.34 L346.4 250.35 L346.9 250.36 L347.4 250.36 L347.9 250.37 L348.4 250.37 L348.9 250.38 L349.4 250.38 L349.9 250.39 L350.4 250.39 L350.9 250.4 L351.4 250.4" fill="none" stroke="#000" stroke-width="1.2" stroke-linejoin="round" stroke-linecap="round"/>
<rect x="291.1" y="190.4" width="61.2" height="60.6" fill="none" stroke="#000" stroke-width="1.25"/>
<path d="M290.7 251h-2.3M290.7 248.1h-1.1M290.7 245.2h-1.1M290.7 242.3h-1.1M290.7 239.4h-2.3M290.7 236.5h-1.1M290.7 233.6h-1.1M290.7 230.7h-1.1M290.7 227.8h-2.3M290.7 224.9h-1.1M290.7 222h-1.1M290.7 219.1h-1.1M290.7 216.2h-2.3M290.7 213.3h-1.1M290.7 210.4h-1.1M290.7 207.5h-1.1M290.7 204.6h-2.3M290.7 201.7h-1.1M290.7 198.8h-1.1M290.7 195.9h-1.1M290.7 193h-2.3" stroke="#000" stroke-width="0.7" fill="none"/>
<path d="M298.6 251.4v2.7M315.5 251.4v2.7M331.8 251.4v2.7M346.3 251.4v2.7M320.41 251.4v1.5M323.28 251.4v1.5M325.31 251.4v1.5M326.89 251.4v1.5M328.18 251.4v1.5M329.28 251.4v1.5M330.22 251.4v1.5M331.05 251.4v1.5M336.16 251.4v1.5M338.72 251.4v1.5M340.53 251.4v1.5M341.94 251.4v1.5M343.08 251.4v1.5M344.05 251.4v1.5M344.89 251.4v1.5M345.64 251.4v1.5M350.66 251.4v1.5M294.6 251.4v1.5M295.6 251.4v1.5M296.6 251.4v1.5M297.6 251.4v1.5M298.6 251.4v1.5M299.6 251.4v1.5M300.6 251.4v1.5M301.6 251.4v1.5M302.6 251.4v1.5M303.6 251.4v1.5" stroke="#000" stroke-width="0.8" fill="none"/>
<text x="298.6" y="262.7" font-size="6.4" text-anchor="middle">0</text>
<text x="314.9" y="262.7" font-size="6.4" text-anchor="middle" textLength="8.5" lengthAdjust="spacingAndGlyphs">10<tspan font-size="3.8" dy="-2.9">3</tspan></text>
<text x="331.2" y="262.7" font-size="6.4" text-anchor="middle" textLength="8.5" lengthAdjust="spacingAndGlyphs">10<tspan font-size="3.8" dy="-2.9">4</tspan></text>
<text x="345.7" y="262.7" font-size="6.4" text-anchor="middle" textLength="8.5" lengthAdjust="spacingAndGlyphs">10<tspan font-size="3.8" dy="-2.9">5</tspan></text>
<text x="349.1" y="199" font-size="6.5" text-anchor="end">56.6</text>
<text x="321.1" y="187.3" font-size="8" text-anchor="middle" textLength="54.9" lengthAdjust="spacingAndGlyphs" stroke="#111" stroke-width="0.12">Asympt. (CMV<tspan font-size="5" dy="-2.8">−</tspan><tspan dy="2.8">)</tspan></text>
<path d="M30.8 272.5 H171.9 M213.7 272.5 H347" stroke="#000" stroke-width="1.15" fill="none"/>
<path d="M353.6 272.5 L345 269.2 L346.8 272.5 L345 275.8 Z" fill="#000"/>
<text x="192.2" y="275.6" font-size="8.9" text-anchor="middle" textLength="26.4" lengthAdjust="spacingAndGlyphs" stroke="#111" stroke-width="0.25">CD107a</text>
<path d="M33.3 392.49 L33.8 391.95 L34.3 390.9 L34.8 389.14 L35.3 386.38 L35.8 382.25 L36.3 376.49 L36.8 369.09 L37.3 360.44 L37.8 351.47 L38.3 343.43 L38.8 337.65 L39.2 335.3 L39.8 337.23 L40.3 340.18 L40.8 344.16 L41.3 348.93 L41.8 354.2 L42.3 359.67 L42.8 365.06 L43.3 370.17 L43.8 374.81 L44.3 378.89 L44.8 382.39 L45.3 385.31 L45.8 387.69 L46.3 389.6 L46.8 390.95 L47.3 391.58 L47.8 392 L48.3 392.28 L48.8 392.45 L48.8 392.7 L33.3 392.7 Z" fill="#b2b2b2" stroke="none"/>
<line x1="47.5" y1="332.3" x2="47.5" y2="392.7" stroke="#333" stroke-width="1.1"/>
<path d="M30.6 392.1 L31.1 392.1 L31.6 392.1 L32.1 392.1 L32.6 392.1 L33.1 392.1 L33.6 392.1 L34.1 391.39 L34.6 389.95 L35.1 387.63 L35.6 384.08 L36.1 379 L36.6 372.23 L37.1 364 L37.6 355.02 L38.1 346.45 L38.6 339.62 L39.2 335.3 L39.6 336.53 L40.1 339.3 L40.6 343.28 L41.1 348.2 L41.6 353.71 L42.1 359.45 L42.6 365.11 L43.1 368.42 L43.6 370.54 L44.1 372.06 L44.6 373.98 L45.1 375.79 L45.6 377.25 L46.1 378.1 L46.6 378.53 L47.1 379.15 L47.6 379.48 L48.1 379.79 L48.6 380.07 L49.1 379.85 L49.6 379.58 L50.1 379.88 L50.6 380.16 L51.1 380.48 L51.6 381.26 L52.1 381.12 L52.6 381.3 L53.1 381.54 L53.6 381.51 L54.1 381.04 L54.6 381.05 L55.1 380.55 L55.6 381.22 L56.1 382.07 L56.6 382.81 L57.1 382.71 L57.6 383.28 L58.1 383.35 L58.6 383.44 L59.1 383.74 L59.6 383.87 L60.1 383.81 L60.6 383.99 L61.1 384.32 L61.6 384.62 L62.1 384.66 L62.6 385.48 L63.1 385.25 L63.6 384.62 L64.1 384.64 L64.6 384.83 L65.1 385.62 L65.6 386.33 L66.1 385.97 L66.6 386.63 L67.1 386.63 L67.6 387.1 L68.1 387.12 L68.6 387.7 L69.1 387.9 L69.6 387.63 L70.1 387.93 L70.6 387.76 L71.1 387.52 L71.6 388.5 L72.1 388.95 L72.6 389.25 L73.1 389.24 L73.6 389.5 L74.1 389.91 L74.6 390 L75.1 390.26 L75.6 390.21 L76.1 390.65 L76.6 390.35 L77.1 390.36 L77.6 390.47 L78.1 390.77 L78.6 390.77 L79.1 391.24 L79.6 391.34 L80.1 391.4 L80.6 391.47 L81.1 391.53 L81.6 391.59 L82.1 391.66 L82.6 391.72 L83.1 391.79 L83.6 391.85 L84.1 391.91 L84.6 391.95 L85.1 391.99 L85.6 392.03 L86.1 392.07 L86.6 392.1 L87.1 392.1 L87.6 392.1 L88.1 392.1 L88.6 392.1 L89.1 392.1 L89.6 392.1 L90.1 392.1" fill="none" stroke="#000" stroke-width="1.2" stroke-linejoin="round" stroke-linecap="round"/>
<rect x="29.8" y="332.3" width="61.2" height="60.4" fill="none" stroke="#000" stroke-width="1.25"/>
<path d="M29.4 392.7h-2.3M29.4 389.81h-1.1M29.4 386.92h-1.1M29.4 384.03h-1.1M29.4 381.14h-2.3M29.4 378.25h-1.1M29.4 375.36h-1.1M29.4 372.47h-1.1M29.4 369.58h-2.3M29.4 366.69h-1.1M29.4 363.8h-1.1M29.4 360.91h-1.1M29.4 358.02h-2.3M29.4 355.13h-1.1M29.4 352.24h-1.1M29.4 349.35h-1.1M29.4 346.46h-2.3M29.4 343.57h-1.1M29.4 340.68h-1.1M29.4 337.79h-1.1M29.4 334.9h-2.3" stroke="#000" stroke-width="0.7" fill="none"/>
<text x="24.7" y="395" font-size="6.3" text-anchor="end">0</text>
<text x="24.7" y="383.44" font-size="6.3" text-anchor="end">20</text>
<text x="24.7" y="371.88" font-size="6.3" text-anchor="end">40</text>
<text x="24.7" y="360.32" font-size="6.3" text-anchor="end">60</text>
<text x="24.7" y="348.76" font-size="6.3" text-anchor="end">80</text>
<text x="24.7" y="337.2" font-size="6.3" text-anchor="end">100</text>
<path d="M36.6 393.1v2.7M47.1 393.1v2.7M66.2 393.1v2.7M84.7 393.1v2.7M52.85 393.1v1.5M56.21 393.1v1.5M58.6 393.1v1.5M60.45 393.1v1.5M61.96 393.1v1.5M63.24 393.1v1.5M64.35 393.1v1.5M65.33 393.1v1.5M71.77 393.1v1.5M75.03 393.1v1.5M77.34 393.1v1.5M79.13 393.1v1.5M80.6 393.1v1.5M81.83 393.1v1.5M82.91 393.1v1.5M83.85 393.1v1.5M90.27 393.1v1.5M32.6 393.1v1.5M33.6 393.1v1.5M34.6 393.1v1.5M35.6 393.1v1.5M36.6 393.1v1.5M37.6 393.1v1.5M38.6 393.1v1.5M39.6 393.1v1.5M40.6 393.1v1.5M41.6 393.1v1.5" stroke="#000" stroke-width="0.8" fill="none"/>
<text x="36.6" y="405.3" font-size="6.4" text-anchor="middle">0</text>
<text x="46.5" y="405.3" font-size="6.4" text-anchor="middle" textLength="8.5" lengthAdjust="spacingAndGlyphs">10<tspan font-size="3.8" dy="-2.9">3</tspan></text>
<text x="65.6" y="405.3" font-size="6.4" text-anchor="middle" textLength="8.5" lengthAdjust="spacingAndGlyphs">10<tspan font-size="3.8" dy="-2.9">4</tspan></text>
<text x="84.1" y="405.3" font-size="6.4" text-anchor="middle" textLength="8.5" lengthAdjust="spacingAndGlyphs">10<tspan font-size="3.8" dy="-2.9">5</tspan></text>
<text x="87.8" y="340.9" font-size="6.5" text-anchor="end">36.9</text>
<path d="M97.2 392.48 L97.7 392.29 L98.2 391.96 L98.7 391.27 L99.2 389.88 L99.7 387.94 L100.2 385.36 L100.7 382.02 L101.2 377.86 L101.7 372.85 L102.2 367.1 L102.7 360.81 L103.2 354.35 L103.7 348.15 L104.2 342.7 L104.7 338.49 L105.2 335.86 L105.4 335.3 L105.7 336.07 L106.2 338.41 L106.7 341.96 L107.2 346.49 L107.7 351.7 L108.2 357.28 L108.7 362.9 L109.2 368.3 L109.7 373.27 L110.2 377.68 L110.7 381.47 L111.2 384.65 L111.7 387.25 L112.2 389.33 L112.7 390.82 L113.2 391.5 L113.7 391.96 L114.2 392.26 L114.7 392.44 L114.7 392.7 L97.2 392.7 Z" fill="#b2b2b2" stroke="none"/>
<line x1="113.45" y1="332.3" x2="113.45" y2="392.7" stroke="#333" stroke-width="1.1"/>
<path d="M96 392.1 L96.5 392.1 L97 392.1 L97.5 392.1 L98 392.1 L98.5 391.67 L99 390.5 L99.5 388.79 L100 386.48 L100.5 383.45 L101 379.63 L101.5 374.95 L102 369.48 L102.5 363.37 L103 356.93 L103.5 350.56 L104 344.76 L104.5 340 L105 336.7 L105.4 335.3 L106 337.52 L106.5 340.94 L107 345.54 L107.5 350.97 L108 355.68 L108.5 358.05 L109 359.56 L109.5 362.28 L110 363.59 L110.5 366.47 L111 367.33 L111.5 367.44 L112 366.75 L112.5 367.93 L113 369.07 L113.5 368.85 L114 367.1 L114.5 367.85 L115 370.02 L115.5 368 L116 367.17 L116.5 367.63 L117 369.3 L117.5 368.53 L118 366.06 L118.5 366.95 L119 368.5 L119.5 368.03 L120 366.75 L120.5 366.76 L121 368.18 L121.5 366.3 L122 366.27 L122.5 366.28 L123 365.21 L123.5 365.59 L124 364.42 L124.5 364.29 L125 364.82 L125.5 364.41 L126 364.14 L126.5 363.83 L127 363.4 L127.5 364.99 L128 364.26 L128.5 363.71 L129 364.12 L129.5 363.65 L130 364.81 L130.5 363.65 L131 364.55 L131.5 365.14 L132 364.01 L132.5 365.34 L133 366.25 L133.5 366.43 L134 367.28 L134.5 367.38 L135 366.78 L135.5 368.16 L136 370.48 L136.5 369.37 L137 371 L137.5 370.7 L138 370.48 L138.5 371.8 L139 373.18 L139.5 373.89 L140 374.7 L140.5 376.01 L141 375.27 L141.5 377.8 L142 378.03 L142.5 378.34 L143 379.86 L143.5 379.71 L144 381.92 L144.5 381.47 L145 382.46 L145.5 383.69 L146 384.13 L146.5 385.76 L147 385.9 L147.5 386.63 L148 387.8 L148.5 388.55 L149 388.8 L149.5 390 L150 391.04 L150.5 390.18 L151 391.37 L151.5 391.27 L152 391.6 L152.5 391.79 L153 391.99 L153.5 392.1 L154 392.1 L154.5 392.1 L155 392.1 L155.5 392.1" fill="none" stroke="#000" stroke-width="1.2" stroke-linejoin="round" stroke-linecap="round"/>
<rect x="95.2" y="332.3" width="61.2" height="60.4" fill="none" stroke="#000" stroke-width="1.25"/>
<path d="M94.8 392.7h-2.3M94.8 389.81h-1.1M94.8 386.92h-1.1M94.8 384.03h-1.1M94.8 381.14h-2.3M94.8 378.25h-1.1M94.8 375.36h-1.1M94.8 372.47h-1.1M94.8 369.58h-2.3M94.8 366.69h-1.1M94.8 363.8h-1.1M94.8 360.91h-1.1M94.8 358.02h-2.3M94.8 355.13h-1.1M94.8 352.24h-1.1M94.8 349.35h-1.1M94.8 346.46h-2.3M94.8 343.57h-1.1M94.8 340.68h-1.1M94.8 337.79h-1.1M94.8 334.9h-2.3" stroke="#000" stroke-width="0.7" fill="none"/>
<path d="M102 393.1v2.7M112.1 393.1v2.7M131.7 393.1v2.7M149.5 393.1v2.7M118 393.1v1.5M121.45 393.1v1.5M123.9 393.1v1.5M125.8 393.1v1.5M127.35 393.1v1.5M128.66 393.1v1.5M129.8 393.1v1.5M130.8 393.1v1.5M137.06 393.1v1.5M140.19 393.1v1.5M142.42 393.1v1.5M144.14 393.1v1.5M145.55 393.1v1.5M146.74 393.1v1.5M147.78 393.1v1.5M148.69 393.1v1.5M154.86 393.1v1.5M98 393.1v1.5M99 393.1v1.5M100 393.1v1.5M101 393.1v1.5M102 393.1v1.5M103 393.1v1.5M104 393.1v1.5M105 393.1v1.5M106 393.1v1.5M107 393.1v1.5" stroke="#000" stroke-width="0.8" fill="none"/>
<text x="102" y="405.3" font-size="6.4" text-anchor="middle">0</text>
<text x="111.5" y="405.3" font-size="6.4" text-anchor="middle" textLength="8.5" lengthAdjust="spacingAndGlyphs">10<tspan font-size="3.8" dy="-2.9">3</tspan></text>
<text x="131.1" y="405.3" font-size="6.4" text-anchor="middle" textLength="8.5" lengthAdjust="spacingAndGlyphs">10<tspan font-size="3.8" dy="-2.9">4</tspan></text>
<text x="148.9" y="405.3" font-size="6.4" text-anchor="middle" textLength="8.5" lengthAdjust="spacingAndGlyphs">10<tspan font-size="3.8" dy="-2.9">5</tspan></text>
<text x="153.2" y="340.9" font-size="6.5" text-anchor="end">64.1</text>
<path d="M161.9 392.52 L162.4 392.38 L162.9 392.07 L163.4 391.44 L163.9 390.54 L164.4 389.32 L164.9 387.7 L165.4 385.6 L165.9 382.95 L166.4 379.68 L166.9 375.76 L167.4 371.23 L167.9 366.15 L168.4 360.7 L168.9 355.1 L169.4 349.66 L169.9 344.69 L170.4 340.5 L170.9 337.38 L171.5 335.3 L171.9 336.42 L172.4 339 L172.9 342.77 L173.4 347.46 L173.9 352.77 L174.4 358.39 L174.9 364 L175.4 369.35 L175.9 374.25 L176.4 378.58 L176.9 382.29 L177.4 385.41 L177.9 387.98 L178.4 390.06 L178.9 390.98 L179.4 391.61 L179.9 392.03 L180.4 392.3 L180.9 392.47 L180.9 392.7 L161.9 392.7 Z" fill="#b2b2b2" stroke="none"/>
<line x1="178.6" y1="332.3" x2="178.6" y2="392.7" stroke="#333" stroke-width="1.1"/>
<path d="M161.2 392.1 L161.7 392.1 L162.2 391.92 L162.7 391.59 L163.2 391.15 L163.7 390.57 L164.2 389.35 L164.7 387.89 L165.2 386.19 L165.7 384.08 L166.2 381.06 L166.7 377.41 L167.2 373.11 L167.7 368.24 L168.2 362.91 L168.7 357.34 L169.2 351.8 L169.7 346.6 L170.2 342.06 L170.7 338.49 L171.2 336.1 L171.5 335.3 L171.7 335.63 L172.2 337.02 L172.7 339.16 L173.2 341.5 L173.7 342.81 L174.2 345.15 L174.7 348.39 L175.2 352.35 L175.7 356.8 L176.2 361.48 L176.7 366.18 L177.2 369.03 L177.7 370.35 L178.2 372.26 L178.7 373.53 L179.2 374.56 L179.7 374.92 L180.2 375.34 L180.7 375.61 L181.2 375.3 L181.7 376.24 L182.2 375.79 L182.7 376.45 L183.2 376.72 L183.7 376.84 L184.2 376.78 L184.7 376.47 L185.2 377.07 L185.7 376.84 L186.2 376.89 L186.7 377.95 L187.2 378.65 L187.7 379.63 L188.2 379.83 L188.7 379.92 L189.2 379.58 L189.7 379.58 L190.2 379.47 L190.7 379.42 L191.2 380.26 L191.7 381.02 L192.2 380.91 L192.7 381.27 L193.2 381.64 L193.7 380.98 L194.2 381.13 L194.7 381.71 L195.2 382.7 L195.7 383.73 L196.2 383.58 L196.7 384.68 L197.2 384.73 L197.7 384.28 L198.2 384.59 L198.7 384.34 L199.2 385.04 L199.7 384.87 L200.2 385.02 L200.7 385.25 L201.2 385.09 L201.7 385.62 L202.2 385.4 L202.7 385.76 L203.2 386.38 L203.7 387.08 L204.2 387.24 L204.7 387.43 L205.2 388.08 L205.7 388.2 L206.2 388.95 L206.7 388.68 L207.2 388.96 L207.7 388.93 L208.2 389.31 L208.7 389.98 L209.2 390.14 L209.7 390.08 L210.2 390.75 L210.7 390.55 L211.2 390.93 L211.7 391.12 L212.2 391.32 L212.7 390.9 L213.2 391.26 L213.7 391.41 L214.2 391.53 L214.7 391.62 L215.2 391.7 L215.7 391.78 L216.2 391.87 L216.7 391.95 L217.2 392.03 L217.7 392.1 L218.2 392.1 L218.7 392.1 L219.2 392.1 L219.7 392.1 L220.2 392.1 L220.7 392.1" fill="none" stroke="#000" stroke-width="1.2" stroke-linejoin="round" stroke-linecap="round"/>
<rect x="160.4" y="332.3" width="61.2" height="60.4" fill="none" stroke="#000" stroke-width="1.25"/>
<path d="M160 392.7h-2.3M160 389.81h-1.1M160 386.92h-1.1M160 384.03h-1.1M160 381.14h-2.3M160 378.25h-1.1M160 375.36h-1.1M160 372.47h-1.1M160 369.58h-2.3M160 366.69h-1.1M160 363.8h-1.1M160 360.91h-1.1M160 358.02h-2.3M160 355.13h-1.1M160 352.24h-1.1M160 349.35h-1.1M160 346.46h-2.3M160 343.57h-1.1M160 340.68h-1.1M160 337.79h-1.1M160 334.9h-2.3" stroke="#000" stroke-width="0.7" fill="none"/>
<path d="M167.5 393.1v2.7M177.7 393.1v2.7M197.4 393.1v2.7M215.3 393.1v2.7M183.63 393.1v1.5M187.1 393.1v1.5M189.56 393.1v1.5M191.47 393.1v1.5M193.03 393.1v1.5M194.35 393.1v1.5M195.49 393.1v1.5M196.5 393.1v1.5M202.79 393.1v1.5M205.94 393.1v1.5M208.18 393.1v1.5M209.91 393.1v1.5M211.33 393.1v1.5M212.53 393.1v1.5M213.57 393.1v1.5M214.48 393.1v1.5M220.69 393.1v1.5M163.5 393.1v1.5M164.5 393.1v1.5M165.5 393.1v1.5M166.5 393.1v1.5M167.5 393.1v1.5M168.5 393.1v1.5M169.5 393.1v1.5M170.5 393.1v1.5M171.5 393.1v1.5M172.5 393.1v1.5" stroke="#000" stroke-width="0.8" fill="none"/>
<text x="167.5" y="405.3" font-size="6.4" text-anchor="middle">0</text>
<text x="177.1" y="405.3" font-size="6.4" text-anchor="middle" textLength="8.5" lengthAdjust="spacingAndGlyphs">10<tspan font-size="3.8" dy="-2.9">3</tspan></text>
<text x="196.8" y="405.3" font-size="6.4" text-anchor="middle" textLength="8.5" lengthAdjust="spacingAndGlyphs">10<tspan font-size="3.8" dy="-2.9">4</tspan></text>
<text x="214.7" y="405.3" font-size="6.4" text-anchor="middle" textLength="8.5" lengthAdjust="spacingAndGlyphs">10<tspan font-size="3.8" dy="-2.9">5</tspan></text>
<text x="218.4" y="340.9" font-size="6.5" text-anchor="end">41.9</text>
<path d="M228.8 392.51 L229.3 392.22 L229.8 391.74 L230.3 391.02 L230.8 389.93 L231.3 388.36 L231.8 386.13 L232.3 383.07 L232.8 379.04 L233.3 373.99 L233.8 367.97 L234.3 361.25 L234.8 354.25 L235.3 347.56 L235.8 341.8 L236.3 337.58 L236.8 335.3 L237.3 336.72 L237.8 339.3 L238.3 342.92 L238.8 347.35 L239.3 352.35 L239.8 357.64 L240.3 362.96 L240.8 368.07 L241.3 372.82 L241.8 377.08 L242.3 380.8 L242.8 383.97 L243.3 386.63 L243.8 388.81 L244.3 390.43 L244.8 391.2 L245.3 391.74 L245.8 392.1 L246.3 392.33 L246.8 392.48 L246.8 392.7 L228.8 392.7 Z" fill="#b2b2b2" stroke="none"/>
<line x1="244.3" y1="332.3" x2="244.3" y2="392.7" stroke="#333" stroke-width="1.1"/>
<path d="M226.6 392.1 L227.1 392.1 L227.6 392.1 L228.1 392.1 L228.6 391.93 L229.1 391.57 L229.6 390.82 L230.1 389.74 L230.6 388.4 L231.1 386.76 L231.6 384.8 L232.1 382.48 L232.6 379.77 L233.1 375.43 L233.6 369.43 L234.1 362.58 L234.6 355.34 L235.1 348.3 L235.6 342.21 L236.1 337.71 L236.6 335.3 L237.1 336.47 L237.6 338.51 L238.1 341.18 L238.7 339.8 L239.1 340.66 L239.6 342.53 L240.1 345.2 L240.6 348.56 L241.1 352.44 L241.6 356.66 L242.1 361.03 L242.6 363.17 L243.1 364.66 L243.6 366.97 L244.1 368.29 L244.6 369.7 L245.1 370.84 L245.6 372.04 L246.1 371.66 L246.6 370.97 L247.1 370.31 L247.6 369.52 L248.1 370.05 L248.6 372.62 L249.1 374.07 L249.6 372.37 L250.1 369.45 L250.6 367.25 L251.1 364.73 L251.6 363.5 L252.1 365.91 L252.6 368.36 L253.1 371.22 L253.6 370.95 L254.1 369.66 L254.6 368.19 L255.1 367.99 L255.6 369.61 L256.1 370.67 L256.6 372.45 L257.1 370.7 L257.6 368.94 L258.1 367.93 L258.6 366.72 L259.1 365.24 L259.6 366.3 L260.1 367.72 L260.6 369.91 L261.1 371.32 L261.6 372.92 L262.1 374.12 L262.6 375.53 L263.1 377.09 L263.6 377.43 L264.1 375.83 L264.6 373.98 L265.1 372.65 L265.6 371.56 L266.1 371.03 L266.6 373.21 L267.1 374.98 L267.6 376.66 L268.1 376.11 L268.6 375.71 L269.1 375.89 L269.6 376.94 L270.1 377.85 L270.6 378.65 L271.1 379.09 L271.6 379.77 L272.1 380.84 L272.6 381.35 L273.1 382.17 L273.6 382.72 L274.1 383.38 L274.6 384.69 L275.1 385.19 L275.6 386.32 L276.1 387.42 L276.6 387.9 L277.1 389 L277.6 389.63 L278.1 390 L278.6 390.66 L279.1 390.98 L279.6 391.34 L280.1 391.75 L280.6 392.02 L281.1 392.06 L281.6 392.1 L282.1 392.1 L282.6 392.1 L283.1 392.1 L283.6 392.1 L284.1 392.1 L284.6 392.1 L285.1 392.1 L285.6 392.1 L286.1 392.1" fill="none" stroke="#000" stroke-width="1.2" stroke-linejoin="round" stroke-linecap="round"/>
<rect x="225.8" y="332.3" width="61.2" height="60.4" fill="none" stroke="#000" stroke-width="1.25"/>
<path d="M225.4 392.7h-2.3M225.4 389.81h-1.1M225.4 386.92h-1.1M225.4 384.03h-1.1M225.4 381.14h-2.3M225.4 378.25h-1.1M225.4 375.36h-1.1M225.4 372.47h-1.1M225.4 369.58h-2.3M225.4 366.69h-1.1M225.4 363.8h-1.1M225.4 360.91h-1.1M225.4 358.02h-2.3M225.4 355.13h-1.1M225.4 352.24h-1.1M225.4 349.35h-1.1M225.4 346.46h-2.3M225.4 343.57h-1.1M225.4 340.68h-1.1M225.4 337.79h-1.1M225.4 334.9h-2.3" stroke="#000" stroke-width="0.7" fill="none"/>
<path d="M232.9 393.1v2.7M243.1 393.1v2.7M262.8 393.1v2.7M280.7 393.1v2.7M249.03 393.1v1.5M252.5 393.1v1.5M254.96 393.1v1.5M256.87 393.1v1.5M258.43 393.1v1.5M259.75 393.1v1.5M260.89 393.1v1.5M261.9 393.1v1.5M268.19 393.1v1.5M271.34 393.1v1.5M273.58 393.1v1.5M275.31 393.1v1.5M276.73 393.1v1.5M277.93 393.1v1.5M278.97 393.1v1.5M279.88 393.1v1.5M286.09 393.1v1.5M228.9 393.1v1.5M229.9 393.1v1.5M230.9 393.1v1.5M231.9 393.1v1.5M232.9 393.1v1.5M233.9 393.1v1.5M234.9 393.1v1.5M235.9 393.1v1.5M236.9 393.1v1.5M237.9 393.1v1.5" stroke="#000" stroke-width="0.8" fill="none"/>
<text x="232.9" y="405.3" font-size="6.4" text-anchor="middle">0</text>
<text x="242.5" y="405.3" font-size="6.4" text-anchor="middle" textLength="8.5" lengthAdjust="spacingAndGlyphs">10<tspan font-size="3.8" dy="-2.9">3</tspan></text>
<text x="262.2" y="405.3" font-size="6.4" text-anchor="middle" textLength="8.5" lengthAdjust="spacingAndGlyphs">10<tspan font-size="3.8" dy="-2.9">4</tspan></text>
<text x="280.1" y="405.3" font-size="6.4" text-anchor="middle" textLength="8.5" lengthAdjust="spacingAndGlyphs">10<tspan font-size="3.8" dy="-2.9">5</tspan></text>
<text x="283.8" y="340.9" font-size="6.5" text-anchor="end">56.9</text>
<path d="M293.6 392.41 L294.1 392.13 L294.6 391.39 L295.1 390.05 L295.6 388.12 L296.1 385.46 L296.6 381.9 L297.1 377.34 L297.6 371.78 L298.1 365.36 L298.6 358.41 L299.1 351.42 L299.6 345.01 L300.1 339.81 L300.6 336.38 L300.9 335.3 L301.1 335.67 L301.6 337.28 L302.1 339.81 L302.6 343.16 L303.1 347.16 L303.6 351.63 L304.1 356.36 L304.6 361.16 L305.1 365.86 L305.6 370.31 L306.1 374.42 L306.6 378.11 L307.1 381.36 L307.6 384.16 L308.1 386.54 L308.6 388.55 L309.1 390.21 L309.6 390.97 L310.1 391.53 L310.6 391.92 L311.1 392.19 L311.6 392.38 L312.1 392.5 L312.1 392.7 L293.6 392.7 Z" fill="#b2b2b2" stroke="none"/>
<line x1="309.4" y1="332.3" x2="309.4" y2="392.7" stroke="#333" stroke-width="1.1"/>
<path d="M291.9 392.1 L292.4 392.1 L292.9 391.88 L293.4 391.5 L293.9 390.97 L294.4 390.26 L294.9 389.32 L295.4 387.33 L295.9 385.11 L296.4 382.57 L296.9 379.29 L297.4 374.12 L297.9 368.02 L298.4 361.23 L298.9 354.18 L299.4 347.46 L299.9 341.71 L300.4 337.52 L300.9 335.3 L301.4 335.4 L301.9 336.23 L302.4 338.88 L302.9 340.5 L303.4 341.78 L303.9 344.05 L304.4 347.21 L304.9 351.08 L305.4 355.45 L305.9 360.09 L306.4 364.76 L306.9 367.24 L307.4 368.44 L307.9 369.22 L308.4 370.3 L308.9 370.77 L309.4 371.41 L309.9 374.52 L310.4 375.13 L310.9 374.67 L311.4 374.14 L311.9 374.15 L312.4 373.59 L312.9 373.84 L313.4 373.42 L313.9 373.19 L314.4 373.32 L314.9 373.73 L315.4 374.27 L315.9 374.43 L316.4 374.77 L316.9 374.67 L317.4 374.11 L317.9 374.47 L318.4 373.13 L318.9 372.19 L319.4 372.78 L319.9 372.67 L320.4 373.03 L320.9 373.94 L321.4 374.15 L321.9 374.01 L322.4 374.81 L322.9 374.59 L323.4 374.24 L323.9 372.91 L324.4 372.23 L324.9 373.16 L325.4 373.82 L325.9 374.29 L326.4 374.46 L326.9 374.11 L327.4 372.95 L327.9 373.02 L328.4 373.46 L328.9 375.09 L329.4 376.34 L329.9 377.22 L330.4 378.48 L330.9 378.91 L331.4 379.7 L331.9 379.59 L332.4 379.55 L332.9 380.51 L333.4 380.48 L333.9 380.85 L334.4 381.63 L334.9 381.94 L335.4 381.88 L335.9 382.58 L336.4 383.98 L336.9 384.22 L337.4 384.69 L337.9 385.88 L338.4 386.2 L338.9 387.27 L339.4 387.59 L339.9 387.75 L340.4 388.22 L340.9 388.48 L341.4 389.44 L341.9 389.64 L342.4 389.58 L342.9 390.13 L343.4 390.57 L343.9 390.94 L344.4 391.2 L344.9 391.44 L345.4 391.55 L345.9 391.66 L346.4 391.77 L346.9 391.88 L347.4 391.99 L347.9 392.1 L348.4 392.1 L348.9 392.1 L349.4 392.1 L349.9 392.1 L350.4 392.1 L350.9 392.1 L351.4 392.1" fill="none" stroke="#000" stroke-width="1.2" stroke-linejoin="round" stroke-linecap="round"/>
<rect x="291.1" y="332.3" width="61.2" height="60.4" fill="none" stroke="#000" stroke-width="1.25"/>
<path d="M290.7 392.7h-2.3M290.7 389.81h-1.1M290.7 386.92h-1.1M290.7 384.03h-1.1M290.7 381.14h-2.3M290.7 378.25h-1.1M290.7 375.36h-1.1M290.7 372.47h-1.1M290.7 369.58h-2.3M290.7 366.69h-1.1M290.7 363.8h-1.1M290.7 360.91h-1.1M290.7 358.02h-2.3M290.7 355.13h-1.1M290.7 352.24h-1.1M290.7 349.35h-1.1M290.7 346.46h-2.3M290.7 343.57h-1.1M290.7 340.68h-1.1M290.7 337.79h-1.1M290.7 334.9h-2.3" stroke="#000" stroke-width="0.7" fill="none"/>
<path d="M298.2 393.1v2.7M308.4 393.1v2.7M328.1 393.1v2.7M346 393.1v2.7M314.33 393.1v1.5M317.8 393.1v1.5M320.26 393.1v1.5M322.17 393.1v1.5M323.73 393.1v1.5M325.05 393.1v1.5M326.19 393.1v1.5M327.2 393.1v1.5M333.49 393.1v1.5M336.64 393.1v1.5M338.88 393.1v1.5M340.61 393.1v1.5M342.03 393.1v1.5M343.23 393.1v1.5M344.27 393.1v1.5M345.18 393.1v1.5M351.39 393.1v1.5M294.2 393.1v1.5M295.2 393.1v1.5M296.2 393.1v1.5M297.2 393.1v1.5M298.2 393.1v1.5M299.2 393.1v1.5M300.2 393.1v1.5M301.2 393.1v1.5M302.2 393.1v1.5M303.2 393.1v1.5" stroke="#000" stroke-width="0.8" fill="none"/>
<text x="298.2" y="405.3" font-size="6.4" text-anchor="middle">0</text>
<text x="307.8" y="405.3" font-size="6.4" text-anchor="middle" textLength="8.5" lengthAdjust="spacingAndGlyphs">10<tspan font-size="3.8" dy="-2.9">3</tspan></text>
<text x="327.5" y="405.3" font-size="6.4" text-anchor="middle" textLength="8.5" lengthAdjust="spacingAndGlyphs">10<tspan font-size="3.8" dy="-2.9">4</tspan></text>
<text x="345.4" y="405.3" font-size="6.4" text-anchor="middle" textLength="8.5" lengthAdjust="spacingAndGlyphs">10<tspan font-size="3.8" dy="-2.9">5</tspan></text>
<text x="349.1" y="340.9" font-size="6.5" text-anchor="end">51.4</text>
<path d="M30.8 414.9 H176 M209.2 414.9 H347" stroke="#000" stroke-width="1.15" fill="none"/>
<path d="M353.6 414.9 L345 411.6 L346.8 414.9 L345 418.2 Z" fill="#000"/>
<text x="192.35" y="417.7" font-size="8.9" text-anchor="middle" textLength="17.3" lengthAdjust="spacingAndGlyphs" stroke="#111" stroke-width="0.2">IFN-γ</text>
<path d="M32.3 534.67 L32.8 534.51 L33.3 534.27 L33.8 533.89 L34.3 533.33 L34.8 532.53 L35.3 530.71 L35.8 528.21 L36.3 525.26 L36.8 521.8 L37.3 517.83 L37.8 513.35 L38.3 508.45 L38.8 503.26 L39.3 497.97 L39.8 492.81 L40.3 488.04 L40.8 483.93 L41.3 480.71 L41.8 478.55 L42.05 477.9 L42.3 478.6 L42.8 480.94 L43.3 484.41 L43.8 488.82 L44.3 493.88 L44.8 499.3 L45.3 504.78 L45.8 510.07 L46.3 514.97 L46.8 519.35 L47.3 523.14 L47.8 526.33 L48.3 528.97 L48.8 531.1 L49.3 532.78 L49.8 533.73 L50.3 534.18 L50.8 534.47 L51.3 534.65 L51.3 534.9 L32.3 534.9 Z" fill="#b2b2b2" stroke="none"/>
<line x1="50.2" y1="474.4" x2="50.2" y2="534.9" stroke="#333" stroke-width="1.1"/>
<path d="M30.6 534.3 L31.1 534.3 L31.6 534.3 L32.1 534.3 L32.6 534.3 L33.1 534.3 L33.6 533.96 L34.1 533.45 L34.6 532.7 L35.1 531.35 L35.6 528.91 L36.1 526.07 L36.6 522.76 L37.1 518.95 L37.6 514.65 L38.1 509.92 L38.6 504.86 L39.1 499.64 L39.6 494.48 L40.1 489.62 L40.6 485.31 L41.1 481.79 L41.6 479.25 L42.05 477.9 L42.6 480.6 L43.1 484.89 L43.6 490.54 L44.1 496.82 L44.6 499.66 L45.1 502.62 L45.6 505.81 L46.1 508.4 L46.6 511.37 L47.1 514.27 L47.6 515.74 L48.1 516.34 L48.6 517.86 L49.1 518.99 L49.6 520.68 L50.1 521.61 L50.6 522.44 L51.1 522.97 L51.6 523.95 L52.1 524.61 L52.6 525.4 L53.1 526.36 L53.6 526.51 L54.1 526.94 L54.6 527.12 L55.1 527.43 L55.6 527.89 L56.1 528.13 L56.6 528.35 L57.1 528.09 L57.6 528.84 L58.1 529.29 L58.6 529.42 L59.1 530.33 L59.6 530.64 L60.1 531.07 L60.6 531.69 L61.1 531.68 L61.6 531.86 L62.1 532.61 L62.6 532.83 L63.1 532.97 L63.6 533.51 L64.1 533.43 L64.6 533.57 L65.1 533.72 L65.6 533.86 L66.1 534.01 L66.6 534.15 L67.1 534.3 L67.6 534.3 L68.1 534.3 L68.6 534.3 L69.1 534.3 L69.6 534.3 L70.1 534.3 L70.6 534.3 L71.1 534.3 L71.6 534.3 L72.1 534.3 L72.6 534.3 L73.1 534.3 L73.6 534.3 L74.1 534.3 L74.6 534.3 L75.1 534.3 L75.6 534.3 L76.1 534.3 L76.6 534.3 L77.1 534.3 L77.6 534.3 L78.1 534.3 L78.6 534.3 L79.1 534.3 L79.6 534.3 L80.1 534.3 L80.6 534.3 L81.1 534.3 L81.6 534.3 L82.1 534.3 L82.6 534.3 L83.1 534.3 L83.6 534.3 L84.1 534.3 L84.6 534.3 L85.1 534.3 L85.6 534.3 L86.1 534.3 L86.6 534.3 L87.1 534.3 L87.6 534.3 L88.1 534.3 L88.6 534.3 L89.1 534.3 L89.6 534.3 L90.1 534.3" fill="none" stroke="#000" stroke-width="1.2" stroke-linejoin="round" stroke-linecap="round"/>
<rect x="29.8" y="474.4" width="61.2" height="60.5" fill="none" stroke="#000" stroke-width="1.25"/>
<path d="M29.4 534.9h-2.3M29.4 532h-1.1M29.4 529.11h-1.1M29.4 526.22h-1.1M29.4 523.32h-2.3M29.4 520.42h-1.1M29.4 517.53h-1.1M29.4 514.63h-1.1M29.4 511.74h-2.3M29.4 508.84h-1.1M29.4 505.95h-1.1M29.4 503.05h-1.1M29.4 500.16h-2.3M29.4 497.26h-1.1M29.4 494.37h-1.1M29.4 491.47h-1.1M29.4 488.58h-2.3M29.4 485.69h-1.1M29.4 482.79h-1.1M29.4 479.89h-1.1M29.4 477h-2.3" stroke="#000" stroke-width="0.7" fill="none"/>
<text x="24.7" y="537.2" font-size="6.3" text-anchor="end">0</text>
<text x="24.7" y="525.62" font-size="6.3" text-anchor="end">20</text>
<text x="24.7" y="514.04" font-size="6.3" text-anchor="end">40</text>
<text x="24.7" y="502.46" font-size="6.3" text-anchor="end">60</text>
<text x="24.7" y="490.88" font-size="6.3" text-anchor="end">80</text>
<text x="24.7" y="479.3" font-size="6.3" text-anchor="end">100</text>
<path d="M38.6 535.3v2.7M52.8 535.3v2.7M69.8 535.3v2.7M85.4 535.3v2.7M57.92 535.3v1.5M60.91 535.3v1.5M63.04 535.3v1.5M64.68 535.3v1.5M66.03 535.3v1.5M67.17 535.3v1.5M68.15 535.3v1.5M69.02 535.3v1.5M74.5 535.3v1.5M77.24 535.3v1.5M79.19 535.3v1.5M80.7 535.3v1.5M81.94 535.3v1.5M82.98 535.3v1.5M83.89 535.3v1.5M84.69 535.3v1.5M90.1 535.3v1.5M34.6 535.3v1.5M35.6 535.3v1.5M36.6 535.3v1.5M37.6 535.3v1.5M38.6 535.3v1.5M39.6 535.3v1.5M40.6 535.3v1.5M41.6 535.3v1.5M42.6 535.3v1.5M43.6 535.3v1.5" stroke="#000" stroke-width="0.8" fill="none"/>
<text x="38.6" y="547" font-size="6.4" text-anchor="middle">0</text>
<text x="52.2" y="547" font-size="6.4" text-anchor="middle" textLength="8.5" lengthAdjust="spacingAndGlyphs">10<tspan font-size="3.8" dy="-2.9">3</tspan></text>
<text x="69.2" y="547" font-size="6.4" text-anchor="middle" textLength="8.5" lengthAdjust="spacingAndGlyphs">10<tspan font-size="3.8" dy="-2.9">4</tspan></text>
<text x="84.8" y="547" font-size="6.4" text-anchor="middle" textLength="8.5" lengthAdjust="spacingAndGlyphs">10<tspan font-size="3.8" dy="-2.9">5</tspan></text>
<text x="87.8" y="483" font-size="6.5" text-anchor="end">17.3</text>
<path d="M97.7 534.73 L98.2 534.61 L98.7 534.42 L99.2 534.11 L99.7 533.65 L100.2 532.62 L100.7 530.94 L101.2 528.83 L101.7 526.23 L102.2 523.11 L102.7 519.43 L103.2 515.2 L103.7 510.47 L104.2 505.36 L104.7 500.04 L105.2 494.75 L105.7 489.74 L106.2 485.31 L106.7 481.7 L107.2 479.13 L107.6 477.9 L108.2 480.5 L108.7 484.33 L109.2 489.37 L109.7 495.21 L110.2 501.43 L110.7 507.62 L111.2 513.43 L111.7 518.64 L112.2 523.14 L112.7 526.9 L113.2 529.98 L113.7 532.47 L114.2 533.41 L114.7 534.02 L115.2 534.4 L115.7 534.63 L115.7 534.9 L97.7 534.9 Z" fill="#b2b2b2" stroke="none"/>
<line x1="115.3" y1="474.4" x2="115.3" y2="534.9" stroke="#333" stroke-width="1.1"/>
<path d="M96 534.3 L96.5 534.3 L97 534.3 L97.5 534.3 L98 534.3 L98.5 534.3 L99 534.25 L99.5 533.86 L100 533.17 L100.5 531.66 L101 529.73 L101.5 527.33 L102 524.43 L102.5 520.97 L103 516.96 L103.5 512.42 L104 507.44 L104.5 502.18 L105 496.84 L105.5 491.69 L106 487 L106.5 483.03 L107 480.02 L107.6 477.9 L108 479.28 L108.5 482.24 L109 485.91 L109.5 487.95 L110 489.97 L110.5 492.18 L111 494.1 L111.5 495.44 L112 496.77 L112.5 498.39 L113 499.42 L113.5 500.62 L114 500.61 L114.5 500.39 L115 500.38 L115.5 499.71 L116 499.41 L116.5 499.08 L117 498.63 L117.5 498.85 L118 499.68 L118.5 499.34 L119 498.78 L119.5 499.52 L120 500.3 L120.5 500.09 L121 499.61 L121.5 500.29 L122 500.77 L122.5 501.45 L123 501.94 L123.5 502.5 L124 502.94 L124.5 503.72 L125 504.49 L125.5 505.15 L126 506.1 L126.5 507.51 L127 508.92 L127.5 511.22 L128 513.38 L128.5 515.48 L129 517.57 L129.5 519.2 L130 521.13 L130.5 522.67 L131 524.55 L131.5 525.77 L132 527.26 L132.5 529.03 L133 530.12 L133.5 530.84 L134 531.79 L134.5 532.31 L135 533.04 L135.5 533.5 L136 533.83 L136.5 534.12 L137 534.3 L137.5 534.3 L138 534.3 L138.5 534.3 L139 534.3 L139.5 534.3 L140 534.3 L140.5 534.3 L141 534.3 L141.5 534.3 L142 534.3 L142.5 534.3 L143 534.3 L143.5 534.3 L144 534.3 L144.5 534.3 L145 534.3 L145.5 534.3 L146 534.3 L146.5 534.3 L147 534.3 L147.5 534.3 L148 534.3 L148.5 534.3 L149 534.3 L149.5 534.3 L150 534.3 L150.5 534.3 L151 534.3 L151.5 534.3 L152 534.3 L152.5 534.3 L153 534.3 L153.5 534.3 L154 534.3 L154.5 534.3 L155 534.3 L155.5 534.3" fill="none" stroke="#000" stroke-width="1.2" stroke-linejoin="round" stroke-linecap="round"/>
<rect x="95.2" y="474.4" width="61.2" height="60.5" fill="none" stroke="#000" stroke-width="1.25"/>
<path d="M94.8 534.9h-2.3M94.8 532h-1.1M94.8 529.11h-1.1M94.8 526.22h-1.1M94.8 523.32h-2.3M94.8 520.42h-1.1M94.8 517.53h-1.1M94.8 514.63h-1.1M94.8 511.74h-2.3M94.8 508.84h-1.1M94.8 505.95h-1.1M94.8 503.05h-1.1M94.8 500.16h-2.3M94.8 497.26h-1.1M94.8 494.37h-1.1M94.8 491.47h-1.1M94.8 488.58h-2.3M94.8 485.69h-1.1M94.8 482.79h-1.1M94.8 479.89h-1.1M94.8 477h-2.3" stroke="#000" stroke-width="0.7" fill="none"/>
<path d="M104 535.3v2.7M118.2 535.3v2.7M135.2 535.3v2.7M150.8 535.3v2.7M123.32 535.3v1.5M126.31 535.3v1.5M128.44 535.3v1.5M130.08 535.3v1.5M131.43 535.3v1.5M132.57 535.3v1.5M133.55 535.3v1.5M134.42 535.3v1.5M139.9 535.3v1.5M142.64 535.3v1.5M144.59 535.3v1.5M146.1 535.3v1.5M147.34 535.3v1.5M148.38 535.3v1.5M149.29 535.3v1.5M150.09 535.3v1.5M155.5 535.3v1.5M100 535.3v1.5M101 535.3v1.5M102 535.3v1.5M103 535.3v1.5M104 535.3v1.5M105 535.3v1.5M106 535.3v1.5M107 535.3v1.5M108 535.3v1.5M109 535.3v1.5" stroke="#000" stroke-width="0.8" fill="none"/>
<text x="104" y="547" font-size="6.4" text-anchor="middle">0</text>
<text x="117.6" y="547" font-size="6.4" text-anchor="middle" textLength="8.5" lengthAdjust="spacingAndGlyphs">10<tspan font-size="3.8" dy="-2.9">3</tspan></text>
<text x="134.6" y="547" font-size="6.4" text-anchor="middle" textLength="8.5" lengthAdjust="spacingAndGlyphs">10<tspan font-size="3.8" dy="-2.9">4</tspan></text>
<text x="150.2" y="547" font-size="6.4" text-anchor="middle" textLength="8.5" lengthAdjust="spacingAndGlyphs">10<tspan font-size="3.8" dy="-2.9">5</tspan></text>
<text x="153.2" y="483" font-size="6.5" text-anchor="end">47.4</text>
<path d="M164.9 534.67 L165.4 534.47 L165.9 534.08 L166.4 533.03 L166.9 531.49 L167.4 529.41 L167.9 526.7 L168.4 523.24 L168.9 518.99 L169.4 513.95 L169.9 508.22 L170.4 502.04 L170.9 495.76 L171.4 489.8 L171.9 484.62 L172.4 480.65 L173 477.9 L173.4 479.27 L173.9 482.22 L174.4 486.38 L174.9 491.45 L175.4 497.09 L175.9 502.93 L176.4 508.66 L176.9 514 L177.4 518.79 L177.9 522.94 L178.4 526.42 L178.9 529.28 L179.4 531.58 L179.9 533.2 L180.4 533.85 L180.9 534.27 L181.4 534.54 L181.9 534.7 L181.9 534.9 L164.9 534.9 Z" fill="#b2b2b2" stroke="none"/>
<line x1="180.9" y1="474.4" x2="180.9" y2="534.9" stroke="#333" stroke-width="1.1"/>
<path d="M161.2 534.3 L161.7 534.3 L162.2 534.3 L162.7 534.3 L163.2 534.3 L163.7 534.3 L164.2 534.3 L164.7 534.3 L165.2 534.3 L165.7 533.99 L166.2 533.17 L166.7 531.75 L167.2 529.91 L167.7 527.6 L168.2 524.38 L168.7 519.83 L169.2 514.25 L169.7 507.78 L170.2 500.75 L170.7 493.68 L171.2 487.23 L171.7 482.04 L172.4 477.9 L172.7 478.77 L173.2 480.02 L173.7 478.3 L174.2 480.39 L174.7 483.98 L175.2 488.79 L175.7 494.45 L176.2 500.53 L176.7 505.95 L177.2 508.51 L177.7 510.98 L178.2 513.58 L178.7 514.72 L179.2 516.2 L179.7 516.81 L180.2 518.13 L180.7 517.49 L181.2 517.76 L181.7 517.47 L182.2 518.15 L182.7 518.58 L183.2 518.49 L183.7 518.74 L184.2 518.46 L184.7 518.57 L185.2 519.43 L185.7 520.21 L186.2 520.07 L186.7 520.49 L187.2 521.5 L187.7 521.98 L188.2 522.82 L188.7 523.38 L189.2 523.86 L189.7 524.8 L190.2 525.18 L190.7 526.32 L191.2 527 L191.7 527.31 L192.2 528.03 L192.7 528.49 L193.2 528.86 L193.7 529.36 L194.2 529.78 L194.7 530.35 L195.2 530.3 L195.7 530.52 L196.2 530.95 L196.7 531.57 L197.2 532.19 L197.7 532.62 L198.2 532.81 L198.7 533.12 L199.2 533.52 L199.7 533.82 L200.2 534.12 L200.7 534.3 L201.2 534.3 L201.7 534.3 L202.2 534.3 L202.7 534.3 L203.2 534.3 L203.7 534.3 L204.2 534.3 L204.7 534.3 L205.2 534.3 L205.7 534.3 L206.2 534.3 L206.7 534.3 L207.2 534.3 L207.7 534.3 L208.2 534.3 L208.7 534.3 L209.2 534.3 L209.7 534.3 L210.2 534.3 L210.7 534.3 L211.2 534.3 L211.7 534.3 L212.2 534.3 L212.7 534.3 L213.2 534.3 L213.7 534.3 L214.2 534.3 L214.7 534.3 L215.2 534.3 L215.7 534.3 L216.2 534.3 L216.7 534.3 L217.2 534.3 L217.7 534.3 L218.2 534.3 L218.7 534.3 L219.2 534.3 L219.7 534.3 L220.2 534.3 L220.7 534.3" fill="none" stroke="#000" stroke-width="1.2" stroke-linejoin="round" stroke-linecap="round"/>
<rect x="160.4" y="474.4" width="61.2" height="60.5" fill="none" stroke="#000" stroke-width="1.25"/>
<path d="M160 534.9h-2.3M160 532h-1.1M160 529.11h-1.1M160 526.22h-1.1M160 523.32h-2.3M160 520.42h-1.1M160 517.53h-1.1M160 514.63h-1.1M160 511.74h-2.3M160 508.84h-1.1M160 505.95h-1.1M160 503.05h-1.1M160 500.16h-2.3M160 497.26h-1.1M160 494.37h-1.1M160 491.47h-1.1M160 488.58h-2.3M160 485.69h-1.1M160 482.79h-1.1M160 479.89h-1.1M160 477h-2.3" stroke="#000" stroke-width="0.7" fill="none"/>
<path d="M170.1 535.3v2.7M184.4 535.3v2.7M200.4 535.3v2.7M216 535.3v2.7M189.22 535.3v1.5M192.03 535.3v1.5M194.03 535.3v1.5M195.58 535.3v1.5M196.85 535.3v1.5M197.92 535.3v1.5M198.85 535.3v1.5M199.67 535.3v1.5M205.1 535.3v1.5M207.84 535.3v1.5M209.79 535.3v1.5M211.3 535.3v1.5M212.54 535.3v1.5M213.58 535.3v1.5M214.49 535.3v1.5M215.29 535.3v1.5M220.7 535.3v1.5M166.1 535.3v1.5M167.1 535.3v1.5M168.1 535.3v1.5M169.1 535.3v1.5M170.1 535.3v1.5M171.1 535.3v1.5M172.1 535.3v1.5M173.1 535.3v1.5M174.1 535.3v1.5M175.1 535.3v1.5" stroke="#000" stroke-width="0.8" fill="none"/>
<text x="170.1" y="547" font-size="6.4" text-anchor="middle">0</text>
<text x="183.8" y="547" font-size="6.4" text-anchor="middle" textLength="8.5" lengthAdjust="spacingAndGlyphs">10<tspan font-size="3.8" dy="-2.9">3</tspan></text>
<text x="199.8" y="547" font-size="6.4" text-anchor="middle" textLength="8.5" lengthAdjust="spacingAndGlyphs">10<tspan font-size="3.8" dy="-2.9">4</tspan></text>
<text x="215.4" y="547" font-size="6.4" text-anchor="middle" textLength="8.5" lengthAdjust="spacingAndGlyphs">10<tspan font-size="3.8" dy="-2.9">5</tspan></text>
<text x="218.4" y="483" font-size="6.5" text-anchor="end">29.5</text>
<path d="M228.3 534.74 L228.8 534.64 L229.3 534.48 L229.8 534.23 L230.3 533.87 L230.8 533.35 L231.3 532.24 L231.8 530.51 L232.3 528.4 L232.8 525.89 L233.3 522.93 L233.8 519.51 L234.3 515.63 L234.8 511.33 L235.3 506.7 L235.8 501.87 L236.3 497.01 L236.8 492.3 L237.3 487.98 L237.8 484.25 L238.3 481.3 L238.8 479.25 L239.1 478.5 L239.3 479.08 L239.8 481.58 L240.3 485.43 L240.8 490.35 L241.3 495.99 L241.8 501.95 L242.3 507.87 L242.8 513.43 L243.3 518.44 L243.8 522.78 L244.3 526.44 L244.8 529.45 L245.3 531.88 L245.8 533.24 L246.3 533.89 L246.8 534.31 L247.3 534.57 L247.8 534.72 L247.8 534.9 L228.3 534.9 Z" fill="#b2b2b2" stroke="none"/>
<line x1="246.5" y1="474.4" x2="246.5" y2="534.9" stroke="#333" stroke-width="1.1"/>
<path d="M226.6 534.3 L227.1 534.3 L227.6 534.3 L228.1 534.3 L228.6 534.3 L229.1 534.3 L229.6 534.3 L230.1 534.3 L230.6 534.12 L231.1 533.73 L231.6 532.82 L232.1 531.49 L232.6 529.69 L233.1 527.19 L233.6 523.95 L234.1 519.91 L234.6 515.06 L235.1 509.49 L235.6 503.42 L236.1 497.2 L236.6 491.26 L237.1 486.07 L237.6 482.08 L238.2 479.3 L238.6 479.21 L239.1 479.21 L239.6 479.13 L240.2 478.3 L240.6 481.78 L241.1 488.88 L241.6 493.34 L242.1 494.34 L242.6 495.09 L243.1 495.74 L243.6 496.85 L244.1 495.35 L244.6 493.29 L245.1 491.23 L245.6 494.63 L246.1 498.34 L246.6 500.67 L247.1 499.04 L247.6 496.97 L248.1 495.31 L248.6 493.69 L249.1 492.39 L249.6 491.14 L250.1 490.01 L250.6 489.13 L251.1 489.9 L251.6 492.29 L252.1 495.76 L252.6 499.1 L253.1 502.84 L253.6 502.48 L254.1 501.07 L254.6 499.48 L255.1 498.64 L255.6 500.49 L256.1 501.82 L256.6 503.45 L257.1 502.47 L257.6 501.86 L258.1 501.71 L258.6 502.7 L259.1 506.07 L259.6 509.41 L260.1 513.2 L260.6 516.69 L261.1 516.82 L261.6 515.99 L262.1 515.68 L262.6 515.6 L263.1 517.4 L263.6 519.62 L264.1 521.91 L264.6 523.35 L265.1 525.07 L265.6 526.62 L266.1 528.2 L266.6 529.67 L267.1 531.2 L267.6 532.12 L268.1 532.47 L268.6 533.26 L269.1 533.64 L269.6 533.82 L270.1 534.01 L270.6 534.19 L271.1 534.3 L271.6 534.3 L272.1 534.3 L272.6 534.3 L273.1 534.3 L273.6 534.3 L274.1 534.3 L274.6 534.3 L275.1 534.3 L275.6 534.3 L276.1 534.3 L276.6 534.3 L277.1 534.3 L277.6 534.3 L278.1 534.3 L278.6 534.3 L279.1 534.3 L279.6 534.3 L280.1 534.3 L280.6 534.3 L281.1 534.3 L281.6 534.3 L282.1 534.3 L282.6 534.3 L283.1 534.3 L283.6 534.3 L284.1 534.3 L284.6 534.3 L285.1 534.3 L285.6 534.3 L286.1 534.3" fill="none" stroke="#000" stroke-width="1.2" stroke-linejoin="round" stroke-linecap="round"/>
<rect x="225.8" y="474.4" width="61.2" height="60.5" fill="none" stroke="#000" stroke-width="1.25"/>
<path d="M225.4 534.9h-2.3M225.4 532h-1.1M225.4 529.11h-1.1M225.4 526.22h-1.1M225.4 523.32h-2.3M225.4 520.42h-1.1M225.4 517.53h-1.1M225.4 514.63h-1.1M225.4 511.74h-2.3M225.4 508.84h-1.1M225.4 505.95h-1.1M225.4 503.05h-1.1M225.4 500.16h-2.3M225.4 497.26h-1.1M225.4 494.37h-1.1M225.4 491.47h-1.1M225.4 488.58h-2.3M225.4 485.69h-1.1M225.4 482.79h-1.1M225.4 479.89h-1.1M225.4 477h-2.3" stroke="#000" stroke-width="0.7" fill="none"/>
<path d="M235.5 535.3v2.7M249.8 535.3v2.7M265.8 535.3v2.7M281.4 535.3v2.7M254.62 535.3v1.5M257.43 535.3v1.5M259.43 535.3v1.5M260.98 535.3v1.5M262.25 535.3v1.5M263.32 535.3v1.5M264.25 535.3v1.5M265.07 535.3v1.5M270.5 535.3v1.5M273.24 535.3v1.5M275.19 535.3v1.5M276.7 535.3v1.5M277.94 535.3v1.5M278.98 535.3v1.5M279.89 535.3v1.5M280.69 535.3v1.5M286.1 535.3v1.5M231.5 535.3v1.5M232.5 535.3v1.5M233.5 535.3v1.5M234.5 535.3v1.5M235.5 535.3v1.5M236.5 535.3v1.5M237.5 535.3v1.5M238.5 535.3v1.5M239.5 535.3v1.5M240.5 535.3v1.5" stroke="#000" stroke-width="0.8" fill="none"/>
<text x="235.5" y="547" font-size="6.4" text-anchor="middle">0</text>
<text x="249.2" y="547" font-size="6.4" text-anchor="middle" textLength="8.5" lengthAdjust="spacingAndGlyphs">10<tspan font-size="3.8" dy="-2.9">3</tspan></text>
<text x="265.2" y="547" font-size="6.4" text-anchor="middle" textLength="8.5" lengthAdjust="spacingAndGlyphs">10<tspan font-size="3.8" dy="-2.9">4</tspan></text>
<text x="280.8" y="547" font-size="6.4" text-anchor="middle" textLength="8.5" lengthAdjust="spacingAndGlyphs">10<tspan font-size="3.8" dy="-2.9">5</tspan></text>
<text x="283.8" y="483" font-size="6.5" text-anchor="end">54.4</text>
<path d="M296.1 534.74 L296.6 534.37 L297.1 533.71 L297.6 532.71 L298.1 531.25 L298.6 529.16 L299.1 526.29 L299.6 522.46 L300.1 517.59 L300.6 511.7 L301.1 505.02 L301.6 497.94 L302.1 491.06 L302.6 485.04 L303.1 480.5 L303.6 477.9 L304.1 479.7 L304.6 482.77 L305.1 486.93 L305.6 491.92 L306.1 497.4 L306.6 503.05 L307.1 508.58 L307.6 513.74 L308.1 518.38 L308.6 522.4 L309.1 525.78 L309.6 528.56 L310.1 530.8 L310.6 532.55 L311.1 533.71 L311.6 534.17 L312.1 534.47 L312.6 534.65 L312.6 534.9 L296.1 534.9 Z" fill="#b2b2b2" stroke="none"/>
<line x1="311.3" y1="474.4" x2="311.3" y2="534.9" stroke="#333" stroke-width="1.1"/>
<path d="M291.9 534.3 L292.4 534.3 L292.9 534.3 L293.4 534.3 L293.9 534.3 L294.4 534.3 L294.9 534.3 L295.4 534.3 L295.9 534.16 L296.4 533.75 L296.9 532.75 L297.4 531.28 L297.9 529.45 L298.4 527.21 L298.9 524.52 L299.4 521.35 L299.9 517.71 L300.4 513.2 L300.9 506.4 L301.4 499.08 L301.9 491.86 L302.4 485.48 L302.9 480.65 L303.4 477.9 L303.9 479.81 L304.5 483.5 L304.9 484.97 L305.4 488.13 L305.9 492.52 L306.4 497.79 L306.9 503.49 L307.4 509.2 L307.9 514.57 L308.4 519.35 L308.9 521.73 L309.4 523.34 L309.9 524.64 L310.4 525.33 L310.9 526.42 L311.4 527.32 L311.9 527.5 L312.4 527.85 L312.9 528.32 L313.4 528.44 L313.9 528.68 L314.4 529.29 L314.9 529.55 L315.4 530.21 L315.9 530.58 L316.4 530.72 L316.9 530.61 L317.4 530.23 L317.9 530.74 L318.4 531 L318.9 531.72 L319.4 531.96 L319.9 532.1 L320.4 532.43 L320.9 532.91 L321.4 532.9 L321.9 533.06 L322.4 533.42 L322.9 533.47 L323.4 533.56 L323.9 533.63 L324.4 533.71 L324.9 533.78 L325.4 533.86 L325.9 533.93 L326.4 534 L326.9 534.08 L327.4 534.15 L327.9 534.23 L328.4 534.3 L328.9 534.3 L329.4 534.3 L329.9 534.3 L330.4 534.3 L330.9 534.3 L331.4 534.3 L331.9 534.3 L332.4 534.3 L332.9 534.3 L333.4 534.3 L333.9 534.3 L334.4 534.3 L334.9 534.3 L335.4 534.3 L335.9 534.3 L336.4 534.3 L336.9 534.3 L337.4 534.3 L337.9 534.3 L338.4 534.3 L338.9 534.3 L339.4 534.3 L339.9 534.3 L340.4 534.3 L340.9 534.3 L341.4 534.3 L341.9 534.3 L342.4 534.3 L342.9 534.3 L343.4 534.3 L343.9 534.3 L344.4 534.3 L344.9 534.3 L345.4 534.3 L345.9 534.3 L346.4 534.3 L346.9 534.3 L347.4 534.3 L347.9 534.3 L348.4 534.3 L348.9 534.3 L349.4 534.3 L349.9 534.3 L350.4 534.3 L350.9 534.3 L351.4 534.3" fill="none" stroke="#000" stroke-width="1.2" stroke-linejoin="round" stroke-linecap="round"/>
<rect x="291.1" y="474.4" width="61.2" height="60.5" fill="none" stroke="#000" stroke-width="1.25"/>
<path d="M290.7 534.9h-2.3M290.7 532h-1.1M290.7 529.11h-1.1M290.7 526.22h-1.1M290.7 523.32h-2.3M290.7 520.42h-1.1M290.7 517.53h-1.1M290.7 514.63h-1.1M290.7 511.74h-2.3M290.7 508.84h-1.1M290.7 505.95h-1.1M290.7 503.05h-1.1M290.7 500.16h-2.3M290.7 497.26h-1.1M290.7 494.37h-1.1M290.7 491.47h-1.1M290.7 488.58h-2.3M290.7 485.69h-1.1M290.7 482.79h-1.1M290.7 479.89h-1.1M290.7 477h-2.3" stroke="#000" stroke-width="0.7" fill="none"/>
<path d="M300.8 535.3v2.7M315.1 535.3v2.7M331.9 535.3v2.7M346.7 535.3v2.7M320.16 535.3v1.5M323.12 535.3v1.5M325.21 535.3v1.5M326.84 535.3v1.5M328.17 535.3v1.5M329.3 535.3v1.5M330.27 535.3v1.5M331.13 535.3v1.5M336.36 535.3v1.5M338.96 535.3v1.5M340.81 535.3v1.5M342.24 535.3v1.5M343.42 535.3v1.5M344.41 535.3v1.5M345.27 535.3v1.5M346.02 535.3v1.5M351.16 535.3v1.5M296.8 535.3v1.5M297.8 535.3v1.5M298.8 535.3v1.5M299.8 535.3v1.5M300.8 535.3v1.5M301.8 535.3v1.5M302.8 535.3v1.5M303.8 535.3v1.5M304.8 535.3v1.5M305.8 535.3v1.5" stroke="#000" stroke-width="0.8" fill="none"/>
<text x="300.8" y="547" font-size="6.4" text-anchor="middle">0</text>
<text x="314.5" y="547" font-size="6.4" text-anchor="middle" textLength="8.5" lengthAdjust="spacingAndGlyphs">10<tspan font-size="3.8" dy="-2.9">3</tspan></text>
<text x="331.3" y="547" font-size="6.4" text-anchor="middle" textLength="8.5" lengthAdjust="spacingAndGlyphs">10<tspan font-size="3.8" dy="-2.9">4</tspan></text>
<text x="346.1" y="547" font-size="6.4" text-anchor="middle" textLength="8.5" lengthAdjust="spacingAndGlyphs">10<tspan font-size="3.8" dy="-2.9">5</tspan></text>
<text x="349.1" y="483" font-size="6.5" text-anchor="end">10.6</text>
<path d="M30.8 557.2 H176.1 M208.9 557.2 H347" stroke="#000" stroke-width="1.15" fill="none"/>
<path d="M353.6 557.2 L345 553.9 L346.8 557.2 L345 560.5 Z" fill="#000"/>
<text x="192.8" y="559.9" font-size="8.9" text-anchor="middle" textLength="13.2" lengthAdjust="spacingAndGlyphs" stroke="#111" stroke-width="0.2">TNF</text>
<text x="403.5" y="12.8" font-size="7.25">CMV serology</text>
<circle cx="404.6" cy="20" r="1.5" fill="#fff" stroke="#000" stroke-width="1.05"/>
<path d="M409.8 20.1H413.8" stroke="#222" stroke-width="0.85"/>
<circle cx="426.2" cy="20" r="1.5" fill="#858585" stroke="#000" stroke-width="1.15"/>
<path d="M430.4 20.1H434.6M432.5 18V22.2" stroke="#222" stroke-width="0.85"/>
<circle cx="446.8" cy="20" r="1.5" fill="#000" stroke="#000" stroke-width="1.15"/>
<text x="450.8" y="22.5" font-size="7.25">undetermined</text>
<path d="M395.1 37.6V102.78" stroke="#000" stroke-width="1.8" fill="none"/>
<path d="M394.2 102H512.2" stroke="#000" stroke-width="1.55" fill="none"/>
<text x="389.6" y="105" font-size="8.3" text-anchor="end" textLength="4" lengthAdjust="spacingAndGlyphs">0</text>
<text x="389.6" y="92.76" font-size="8.3" text-anchor="end" textLength="8" lengthAdjust="spacingAndGlyphs">20</text>
<text x="389.6" y="80.52" font-size="8.3" text-anchor="end" textLength="8" lengthAdjust="spacingAndGlyphs">40</text>
<text x="389.6" y="68.28" font-size="8.3" text-anchor="end" textLength="8" lengthAdjust="spacingAndGlyphs">60</text>
<text x="389.6" y="56.04" font-size="8.3" text-anchor="end" textLength="8" lengthAdjust="spacingAndGlyphs">80</text>
<text x="389.6" y="43.8" font-size="8.3" text-anchor="end" textLength="12" lengthAdjust="spacingAndGlyphs">100</text>
<path d="M395.1 102h-3.6M395.1 89.76h-3.6M395.1 77.52h-3.6M395.1 65.28h-3.6M395.1 53.04h-3.6M395.1 40.8h-3.6M404.3 102v2.8M415 102v2.8M433 102v2.8M444.3 102v2.8M462 102v2.8M473.2 102v2.8M492 102v2.8M502.8 102v2.8" stroke="#000" stroke-width="1.2" fill="none"/>
<text transform="translate(370.7 71) rotate(-90)" font-size="9.5" text-anchor="middle" textLength="40.6" lengthAdjust="spacingAndGlyphs" stroke="#111" stroke-width="0.2">IFN-γ<tspan font-size="6" dy="-3.4">+</tspan><tspan dy="3.4"> (%)</tspan></text>
<circle cx="403.4" cy="102" r="1.65" fill="#858585" stroke="#000" stroke-width="1.25"/>
<circle cx="404.2" cy="102" r="1.65" fill="#858585" stroke="#000" stroke-width="1.25"/>
<circle cx="405" cy="102" r="1.65" fill="#858585" stroke="#000" stroke-width="1.25"/>
<circle cx="412.6" cy="58.8" r="1.7" fill="#fff" stroke="#000" stroke-width="1.15"/>
<circle cx="416.9" cy="60.5" r="1.7" fill="#fff" stroke="#000" stroke-width="1.15"/>
<circle cx="415" cy="80.8" r="1.7" fill="#fff" stroke="#000" stroke-width="1.15"/>
<circle cx="430.9" cy="102" r="1.65" fill="#858585" stroke="#000" stroke-width="1.25"/>
<circle cx="432.3" cy="102" r="1.65" fill="#858585" stroke="#000" stroke-width="1.25"/>
<circle cx="433.7" cy="102" r="1.65" fill="#858585" stroke="#000" stroke-width="1.25"/>
<circle cx="435.1" cy="102" r="1.65" fill="#858585" stroke="#000" stroke-width="1.25"/>
<circle cx="443" cy="73" r="1.65" fill="#858585" stroke="#000" stroke-width="1.25"/>
<circle cx="445.6" cy="75" r="1.65" fill="#858585" stroke="#000" stroke-width="1.25"/>
<circle cx="444" cy="85" r="1.65" fill="#858585" stroke="#000" stroke-width="1.25"/>
<circle cx="447" cy="91.2" r="1.65" fill="#858585" stroke="#000" stroke-width="1.25"/>
<circle cx="442.4" cy="94.6" r="1.65" fill="#858585" stroke="#000" stroke-width="1.25"/>
<circle cx="459.45" cy="102" r="1.65" fill="#858585" stroke="#000" stroke-width="1.25"/>
<circle cx="461.15" cy="102" r="1.65" fill="#858585" stroke="#000" stroke-width="1.25"/>
<circle cx="462.85" cy="102" r="1.65" fill="#858585" stroke="#000" stroke-width="1.25"/>
<circle cx="464.55" cy="102" r="1.65" fill="#858585" stroke="#000" stroke-width="1.25"/>
<circle cx="470.5" cy="101.8" r="1.65" fill="#858585" stroke="#000" stroke-width="1.25"/>
<circle cx="472.6" cy="102" r="1.65" fill="#000" stroke="#000" stroke-width="1.25"/>
<circle cx="474.4" cy="101.6" r="1.65" fill="#858585" stroke="#000" stroke-width="1.25"/>
<circle cx="476.6" cy="101" r="1.65" fill="#858585" stroke="#000" stroke-width="1.25"/>
<circle cx="490" cy="102" r="1.7" fill="#fff" stroke="#000" stroke-width="1.15"/>
<circle cx="494.5" cy="102" r="1.7" fill="#fff" stroke="#000" stroke-width="1.15"/>
<circle cx="502.6" cy="63.6" r="1.65" fill="#858585" stroke="#000" stroke-width="1.25"/>
<circle cx="502.6" cy="68.7" r="1.65" fill="#858585" stroke="#000" stroke-width="1.25"/>
<path d="M411.1 66.5H418.9M415 54.3V79.5M413.1 54.3H416.9M413.1 79.5H416.9" stroke="#000" stroke-width="1.1" fill="none"/>
<path d="M440.4 82.5H448.2M444.3 73V92.5M442.4 73H446.2M442.4 92.5H446.2" stroke="#000" stroke-width="1.1" fill="none"/>
<path d="M498.7 66.2H506.5M502.6 63.6V68.7M502.6 63.6H502.6M502.6 68.7H502.6" stroke="#000" stroke-width="1.1" fill="none"/>
<path d="M444.3 40.8V39.5H473.2V40.8" stroke="#000" stroke-width="1.2" fill="none" stroke-linejoin="miter"/>
<text x="459.05" y="39" font-size="8" text-anchor="middle" font-weight="bold" letter-spacing="1">**</text>
<g transform="translate(0 0)">
<text x="393.2" y="115.1" font-size="7.4" text-anchor="end">IL-12+18</text>
<path d="M402.4 112.5h3.8M413.1 112.5h3.8M415 110.6v3.8M431.1 112.5h3.8M442.4 112.5h3.8M444.3 110.6v3.8M460.1 112.5h3.8M471.3 112.5h3.8M473.2 110.6v3.8" stroke="#222" stroke-width="0.85" fill="none"/>
<path d="M394.8 118.4H420.9M424.2 118.4H451.8M456.5 118.4H482.6M485.3 118.4H512.4" stroke="#000" stroke-width="1.5" fill="none"/>
<text x="409.7" y="129.7" font-size="8" text-anchor="middle">CMV<tspan font-size="5" dy="-2.9">−</tspan></text>
<text x="438.4" y="129.7" font-size="8" text-anchor="middle">CMV<tspan font-size="5" dy="-2.9">+</tspan></text>
<text x="456.8" y="129.7" font-size="8" textLength="24" lengthAdjust="spacingAndGlyphs">Patient</text>
<text x="483.7" y="129.7" font-size="8" textLength="28.5" lengthAdjust="spacingAndGlyphs">Asympt.</text>
<path d="M394.8 134.2H451.8M456.5 134.2H512.6" stroke="#000" stroke-width="1.5" fill="none"/>
<text x="423.2" y="147.3" font-size="9.6" text-anchor="middle" textLength="47.3" lengthAdjust="spacingAndGlyphs" style="stroke-width:0.25px">Healthy ctrls</text>
<text x="463.9" y="147" font-size="9.4" font-style="italic" textLength="25.8" style="stroke-width:0.22px" lengthAdjust="spacingAndGlyphs">GATA2</text>
<text x="489.9" y="143.6" font-size="6.4" textLength="17.4" lengthAdjust="spacingAndGlyphs">+/mut</text>
</g>
<path d="M395.95 186.2V251.45" stroke="#000" stroke-width="1.7" fill="none"/>
<path d="M395.1 250.6H512.2" stroke="#000" stroke-width="1.7" fill="none"/>
<text x="389.6" y="253.6" font-size="8.3" text-anchor="end" textLength="4" lengthAdjust="spacingAndGlyphs">0</text>
<text x="389.6" y="241.36" font-size="8.3" text-anchor="end" textLength="8" lengthAdjust="spacingAndGlyphs">20</text>
<text x="389.6" y="229.12" font-size="8.3" text-anchor="end" textLength="8" lengthAdjust="spacingAndGlyphs">40</text>
<text x="389.6" y="216.88" font-size="8.3" text-anchor="end" textLength="8" lengthAdjust="spacingAndGlyphs">60</text>
<text x="389.6" y="204.64" font-size="8.3" text-anchor="end" textLength="8" lengthAdjust="spacingAndGlyphs">80</text>
<text x="389.6" y="192.4" font-size="8.3" text-anchor="end" textLength="12" lengthAdjust="spacingAndGlyphs">100</text>
<path d="M395.95 250.6h-3.6M395.95 238.36h-3.6M395.95 226.12h-3.6M395.95 213.88h-3.6M395.95 201.64h-3.6M395.95 189.4h-3.6M405.2 250.6v2.8M415.9 250.6v2.8M433.9 250.6v2.8M445.2 250.6v2.8M462.9 250.6v2.8M474.1 250.6v2.8M492.9 250.6v2.8M503.7 250.6v2.8" stroke="#000" stroke-width="1.2" fill="none"/>
<text transform="translate(370.7 219.6) rotate(-90)" font-size="9.5" text-anchor="middle" textLength="47.9" lengthAdjust="spacingAndGlyphs" stroke="#111" stroke-width="0.2">CD107a<tspan font-size="6" dy="-3.4">+</tspan><tspan dy="3.4"> (%)</tspan></text>
<circle cx="403.5" cy="249.6" r="1.65" fill="#858585" stroke="#000" stroke-width="1.25"/>
<circle cx="404.4" cy="249.6" r="1.65" fill="#858585" stroke="#000" stroke-width="1.25"/>
<circle cx="405.3" cy="249.6" r="1.65" fill="#858585" stroke="#000" stroke-width="1.25"/>
<circle cx="413" cy="222" r="1.7" fill="#fff" stroke="#000" stroke-width="1.15"/>
<circle cx="417" cy="222" r="1.7" fill="#fff" stroke="#000" stroke-width="1.15"/>
<circle cx="415" cy="228.6" r="1.7" fill="#fff" stroke="#000" stroke-width="1.15"/>
<circle cx="431.1" cy="250.4" r="1.65" fill="#858585" stroke="#000" stroke-width="1.25"/>
<circle cx="432.5" cy="250.4" r="1.65" fill="#858585" stroke="#000" stroke-width="1.25"/>
<circle cx="433.9" cy="250.4" r="1.65" fill="#858585" stroke="#000" stroke-width="1.25"/>
<circle cx="435.3" cy="250.4" r="1.65" fill="#858585" stroke="#000" stroke-width="1.25"/>
<circle cx="443.5" cy="208.6" r="1.65" fill="#858585" stroke="#000" stroke-width="1.25"/>
<circle cx="446" cy="207.9" r="1.65" fill="#858585" stroke="#000" stroke-width="1.25"/>
<circle cx="444.5" cy="211.6" r="1.65" fill="#858585" stroke="#000" stroke-width="1.25"/>
<circle cx="444" cy="221.6" r="1.65" fill="#858585" stroke="#000" stroke-width="1.25"/>
<circle cx="446.4" cy="221.4" r="1.65" fill="#858585" stroke="#000" stroke-width="1.25"/>
<circle cx="444.6" cy="225.8" r="1.65" fill="#858585" stroke="#000" stroke-width="1.25"/>
<circle cx="460.05" cy="250.4" r="1.65" fill="#858585" stroke="#000" stroke-width="1.25"/>
<circle cx="461.75" cy="250.4" r="1.65" fill="#858585" stroke="#000" stroke-width="1.25"/>
<circle cx="463.45" cy="250.4" r="1.65" fill="#858585" stroke="#000" stroke-width="1.25"/>
<circle cx="465.15" cy="250.4" r="1.65" fill="#858585" stroke="#000" stroke-width="1.25"/>
<circle cx="472" cy="233.9" r="1.65" fill="#858585" stroke="#000" stroke-width="1.25"/>
<circle cx="476.5" cy="233.8" r="1.65" fill="#000" stroke="#000" stroke-width="1.25"/>
<circle cx="474.5" cy="237" r="1.65" fill="#858585" stroke="#000" stroke-width="1.25"/>
<circle cx="474" cy="240.4" r="1.65" fill="#858585" stroke="#000" stroke-width="1.25"/>
<circle cx="473.5" cy="244.7" r="1.65" fill="#858585" stroke="#000" stroke-width="1.25"/>
<circle cx="474" cy="247.7" r="1.65" fill="#858585" stroke="#000" stroke-width="1.25"/>
<circle cx="490.5" cy="249.5" r="1.7" fill="#fff" stroke="#000" stroke-width="1.15"/>
<circle cx="494.5" cy="248.8" r="1.7" fill="#fff" stroke="#000" stroke-width="1.15"/>
<circle cx="503.6" cy="216.8" r="1.65" fill="#858585" stroke="#000" stroke-width="1.25"/>
<circle cx="503.6" cy="223" r="1.65" fill="#858585" stroke="#000" stroke-width="1.25"/>
<path d="M411.1 224.5H418.9M415 220.8V230.3M413.1 220.8H416.9M413.1 230.3H416.9" stroke="#000" stroke-width="1.1" fill="none"/>
<path d="M440.7 216.8H448.5M444.6 209.5V224M442.7 209.5H446.5M442.7 224H446.5" stroke="#000" stroke-width="1.1" fill="none"/>
<path d="M470.1 241.5H477.9M474 235.5V247M472.1 235.5H475.9M472.1 247H475.9" stroke="#000" stroke-width="1.1" fill="none"/>
<path d="M499.7 220H507.5M503.6 216.8V223M503.6 216.8H503.6M503.6 223H503.6" stroke="#000" stroke-width="1.1" fill="none"/>
<path d="M444.3 199.8V198.5H475V199.8" stroke="#000" stroke-width="1.2" fill="none" stroke-linejoin="miter"/>
<text x="459.95" y="197.5" font-size="8" text-anchor="middle" font-weight="bold" letter-spacing="1">***</text>
<g transform="translate(0.9 0.7)">
<path d="M402.4 261.1h3.8M413.1 261.1h3.8M415 259.2v3.8M431.1 261.1h3.8M442.4 261.1h3.8M444.3 259.2v3.8M460.1 261.1h3.8M471.3 261.1h3.8M473.2 259.2v3.8M490.1 261.1h3.8M500.9 261.1h3.8M502.8 259.2v3.8" stroke="#222" stroke-width="0.85" fill="none"/>
<path d="M394.8 267H420.9M424.2 267H451.8M456.5 267H482.6M485.3 267H512.4" stroke="#000" stroke-width="1.5" fill="none"/>
<text x="409.7" y="278.3" font-size="8" text-anchor="middle">CMV<tspan font-size="5" dy="-2.9">−</tspan></text>
<text x="438.4" y="278.3" font-size="8" text-anchor="middle">CMV<tspan font-size="5" dy="-2.9">+</tspan></text>
<text x="456.8" y="278.3" font-size="8" textLength="24" lengthAdjust="spacingAndGlyphs">Patient</text>
<text x="483.7" y="278.3" font-size="8" textLength="28.5" lengthAdjust="spacingAndGlyphs">Asympt.</text>
<path d="M394.8 282.8H451.8M456.5 282.8H512.6" stroke="#000" stroke-width="1.5" fill="none"/>
<text x="423.2" y="294.3" font-size="9.6" text-anchor="middle" textLength="47.3" lengthAdjust="spacingAndGlyphs" style="stroke-width:0.25px">Healthy ctrls</text>
<text x="463.9" y="294" font-size="9.4" font-style="italic" textLength="25.8" style="stroke-width:0.22px" lengthAdjust="spacingAndGlyphs">GATA2</text>
<text x="489.9" y="290.6" font-size="6.4" textLength="17.4" lengthAdjust="spacingAndGlyphs">+/mut</text>
</g>
<path d="M395.3 328.6V393.7" stroke="#000" stroke-width="1.6" fill="none"/>
<path d="M394.5 393H512.2" stroke="#000" stroke-width="1.4" fill="none"/>
<text x="389.6" y="396" font-size="8.3" text-anchor="end" textLength="4" lengthAdjust="spacingAndGlyphs">0</text>
<text x="389.6" y="383.76" font-size="8.3" text-anchor="end" textLength="8" lengthAdjust="spacingAndGlyphs">20</text>
<text x="389.6" y="371.52" font-size="8.3" text-anchor="end" textLength="8" lengthAdjust="spacingAndGlyphs">40</text>
<text x="389.6" y="359.28" font-size="8.3" text-anchor="end" textLength="8" lengthAdjust="spacingAndGlyphs">60</text>
<text x="389.6" y="347.04" font-size="8.3" text-anchor="end" textLength="8" lengthAdjust="spacingAndGlyphs">80</text>
<text x="389.6" y="334.8" font-size="8.3" text-anchor="end" textLength="12" lengthAdjust="spacingAndGlyphs">100</text>
<path d="M395.3 393h-3.6M395.3 380.76h-3.6M395.3 368.52h-3.6M395.3 356.28h-3.6M395.3 344.04h-3.6M395.3 331.8h-3.6M404.3 393v2.8M415 393v2.8M433 393v2.8M444.3 393v2.8M462 393v2.8M473.2 393v2.8M492 393v2.8M502.8 393v2.8" stroke="#000" stroke-width="1.2" fill="none"/>
<text transform="translate(370.7 362) rotate(-90)" font-size="9.5" text-anchor="middle" textLength="40.6" lengthAdjust="spacingAndGlyphs" stroke="#111" stroke-width="0.2">IFN-γ<tspan font-size="6" dy="-3.4">+</tspan><tspan dy="3.4"> (%)</tspan></text>
<circle cx="403.5" cy="392" r="1.65" fill="#858585" stroke="#000" stroke-width="1.25"/>
<circle cx="404.4" cy="392" r="1.65" fill="#858585" stroke="#000" stroke-width="1.25"/>
<circle cx="405.3" cy="392" r="1.65" fill="#858585" stroke="#000" stroke-width="1.25"/>
<circle cx="415" cy="352" r="1.7" fill="#fff" stroke="#000" stroke-width="1.15"/>
<circle cx="417.6" cy="368" r="1.7" fill="#fff" stroke="#000" stroke-width="1.15"/>
<circle cx="413.3" cy="370.5" r="1.7" fill="#fff" stroke="#000" stroke-width="1.15"/>
<circle cx="431.1" cy="392.6" r="1.65" fill="#858585" stroke="#000" stroke-width="1.25"/>
<circle cx="432.5" cy="392.6" r="1.65" fill="#858585" stroke="#000" stroke-width="1.25"/>
<circle cx="433.9" cy="392.6" r="1.65" fill="#858585" stroke="#000" stroke-width="1.25"/>
<circle cx="435.3" cy="392.6" r="1.65" fill="#858585" stroke="#000" stroke-width="1.25"/>
<circle cx="444.3" cy="340" r="1.65" fill="#858585" stroke="#000" stroke-width="1.25"/>
<circle cx="447" cy="353.3" r="1.65" fill="#858585" stroke="#000" stroke-width="1.25"/>
<circle cx="442.6" cy="357.5" r="1.65" fill="#858585" stroke="#000" stroke-width="1.25"/>
<circle cx="441.4" cy="360.5" r="1.65" fill="#858585" stroke="#000" stroke-width="1.25"/>
<circle cx="446.3" cy="364.5" r="1.65" fill="#858585" stroke="#000" stroke-width="1.25"/>
<circle cx="444.3" cy="370.5" r="1.65" fill="#858585" stroke="#000" stroke-width="1.25"/>
<circle cx="460.05" cy="392.4" r="1.65" fill="#858585" stroke="#000" stroke-width="1.25"/>
<circle cx="461.75" cy="392.4" r="1.65" fill="#858585" stroke="#000" stroke-width="1.25"/>
<circle cx="463.45" cy="392.4" r="1.65" fill="#858585" stroke="#000" stroke-width="1.25"/>
<circle cx="465.15" cy="392.4" r="1.65" fill="#858585" stroke="#000" stroke-width="1.25"/>
<circle cx="473.8" cy="352" r="1.7" fill="#fff" stroke="#000" stroke-width="1.15"/>
<circle cx="473.8" cy="358.8" r="1.65" fill="#858585" stroke="#000" stroke-width="1.25"/>
<circle cx="473.8" cy="367.5" r="1.65" fill="#858585" stroke="#000" stroke-width="1.25"/>
<circle cx="473.8" cy="377" r="1.65" fill="#858585" stroke="#000" stroke-width="1.25"/>
<circle cx="473" cy="381.3" r="1.65" fill="#858585" stroke="#000" stroke-width="1.25"/>
<circle cx="475" cy="381.6" r="1.65" fill="#858585" stroke="#000" stroke-width="1.25"/>
<circle cx="473.8" cy="384" r="1.65" fill="#858585" stroke="#000" stroke-width="1.25"/>
<circle cx="490" cy="392.4" r="1.7" fill="#fff" stroke="#000" stroke-width="1.15"/>
<circle cx="494.5" cy="391.5" r="1.7" fill="#fff" stroke="#000" stroke-width="1.15"/>
<circle cx="503.4" cy="361.3" r="1.65" fill="#858585" stroke="#000" stroke-width="1.25"/>
<circle cx="503.4" cy="372" r="1.65" fill="#858585" stroke="#000" stroke-width="1.25"/>
<path d="M411.1 363.8H418.9M415 352V373.8M413.1 352H416.9M413.1 373.8H416.9" stroke="#000" stroke-width="1.1" fill="none"/>
<path d="M440.6 357.5H448.4M444.5 347V368.8M442.6 347H446.4M442.6 368.8H446.4" stroke="#000" stroke-width="1.1" fill="none"/>
<path d="M469.9 373.3H477.7M473.8 361.3V385M471.9 361.3H475.7M471.9 385H475.7" stroke="#000" stroke-width="1.1" fill="none"/>
<path d="M499.5 366.8H507.3M503.4 361.3V372M503.4 361.3H503.4M503.4 372H503.4" stroke="#000" stroke-width="1.1" fill="none"/>
<path d="M444.3 335.8V334.5H473.3V335.8" stroke="#000" stroke-width="1.2" fill="none" stroke-linejoin="miter"/>
<text x="458.8" y="332.3" font-size="7.2" text-anchor="middle">n.s.</text>
<g transform="translate(0 0)">
<path d="M402.4 404.4h3.8M413.1 404.4h3.8M415 402.5v3.8M431.1 404.4h3.8M442.4 404.4h3.8M444.3 402.5v3.8M460.1 404.4h3.8M471.3 404.4h3.8M473.2 402.5v3.8M490.1 404.4h3.8M500.9 404.4h3.8M502.8 402.5v3.8" stroke="#222" stroke-width="0.85" fill="none"/>
<path d="M394.8 409.4H420.9M424.2 409.4H451.8M456.5 409.4H482.6M485.3 409.4H512.4" stroke="#000" stroke-width="1.5" fill="none"/>
<text x="409.7" y="420.7" font-size="8" text-anchor="middle">CMV<tspan font-size="5" dy="-2.9">−</tspan></text>
<text x="438.4" y="420.7" font-size="8" text-anchor="middle">CMV<tspan font-size="5" dy="-2.9">+</tspan></text>
<text x="456.8" y="420.7" font-size="8" textLength="24" lengthAdjust="spacingAndGlyphs">Patient</text>
<text x="483.7" y="420.7" font-size="8" textLength="28.5" lengthAdjust="spacingAndGlyphs">Asympt.</text>
<path d="M394.8 425.2H451.8M456.5 425.2H512.6" stroke="#000" stroke-width="1.5" fill="none"/>
<text x="423.2" y="438.3" font-size="9.6" text-anchor="middle" textLength="47.3" lengthAdjust="spacingAndGlyphs" style="stroke-width:0.25px">Healthy ctrls</text>
<text x="463.9" y="438" font-size="9.4" font-style="italic" textLength="25.8" style="stroke-width:0.22px" lengthAdjust="spacingAndGlyphs">GATA2</text>
<text x="489.9" y="434.6" font-size="6.4" textLength="17.4" lengthAdjust="spacingAndGlyphs">+/mut</text>
</g>
<path d="M395.25 470.8V535.92" stroke="#000" stroke-width="1.4" fill="none"/>
<path d="M394.55 535.3H512.2" stroke="#000" stroke-width="1.25" fill="none"/>
<text x="389.6" y="538.3" font-size="8.3" text-anchor="end" textLength="4" lengthAdjust="spacingAndGlyphs">0</text>
<text x="389.6" y="526.04" font-size="8.3" text-anchor="end" textLength="8" lengthAdjust="spacingAndGlyphs">20</text>
<text x="389.6" y="513.78" font-size="8.3" text-anchor="end" textLength="8" lengthAdjust="spacingAndGlyphs">40</text>
<text x="389.6" y="501.52" font-size="8.3" text-anchor="end" textLength="8" lengthAdjust="spacingAndGlyphs">60</text>
<text x="389.6" y="489.26" font-size="8.3" text-anchor="end" textLength="8" lengthAdjust="spacingAndGlyphs">80</text>
<text x="389.6" y="477" font-size="8.3" text-anchor="end" textLength="12" lengthAdjust="spacingAndGlyphs">100</text>
<path d="M395.25 535.3h-3.6M395.25 523.04h-3.6M395.25 510.78h-3.6M395.25 498.52h-3.6M395.25 486.26h-3.6M395.25 474h-3.6M404.3 535.3v2.8M415 535.3v2.8M433 535.3v2.8M444.3 535.3v2.8M462 535.3v2.8M473.2 535.3v2.8M492 535.3v2.8M502.8 535.3v2.8" stroke="#000" stroke-width="1.2" fill="none"/>
<text transform="translate(370.7 504.25) rotate(-90)" font-size="9.5" text-anchor="middle" textLength="33.5" lengthAdjust="spacingAndGlyphs" stroke="#111" stroke-width="0.2">TNF<tspan font-size="6" dy="-3.4">+</tspan><tspan dy="3.4"> (%)</tspan></text>
<circle cx="403.8" cy="535" r="1.65" fill="#858585" stroke="#000" stroke-width="1.25"/>
<circle cx="404.8" cy="535" r="1.65" fill="#858585" stroke="#000" stroke-width="1.25"/>
<circle cx="415" cy="513.3" r="1.7" fill="#fff" stroke="#000" stroke-width="1.15"/>
<circle cx="417.6" cy="520" r="1.7" fill="#fff" stroke="#000" stroke-width="1.15"/>
<circle cx="413" cy="524.5" r="1.7" fill="#fff" stroke="#000" stroke-width="1.15"/>
<circle cx="431.1" cy="535" r="1.65" fill="#858585" stroke="#000" stroke-width="1.25"/>
<circle cx="432.5" cy="535" r="1.65" fill="#858585" stroke="#000" stroke-width="1.25"/>
<circle cx="433.9" cy="535" r="1.65" fill="#858585" stroke="#000" stroke-width="1.25"/>
<circle cx="435.3" cy="535" r="1.65" fill="#858585" stroke="#000" stroke-width="1.25"/>
<circle cx="444.3" cy="486.3" r="1.65" fill="#858585" stroke="#000" stroke-width="1.25"/>
<circle cx="444.3" cy="507.5" r="2" fill="#858585" stroke="#000" stroke-width="1.25"/>
<circle cx="447" cy="518.3" r="1.65" fill="#858585" stroke="#000" stroke-width="1.25"/>
<circle cx="442" cy="521.5" r="1.65" fill="#858585" stroke="#000" stroke-width="1.25"/>
<circle cx="460.05" cy="535" r="1.65" fill="#858585" stroke="#000" stroke-width="1.25"/>
<circle cx="461.75" cy="535" r="1.65" fill="#858585" stroke="#000" stroke-width="1.25"/>
<circle cx="463.45" cy="535" r="1.65" fill="#858585" stroke="#000" stroke-width="1.25"/>
<circle cx="465.15" cy="535" r="1.65" fill="#858585" stroke="#000" stroke-width="1.25"/>
<circle cx="470.5" cy="497" r="1.7" fill="#fff" stroke="#000" stroke-width="1.15"/>
<circle cx="475.5" cy="498.8" r="1.65" fill="#858585" stroke="#000" stroke-width="1.25"/>
<circle cx="473.6" cy="515" r="1.65" fill="#858585" stroke="#000" stroke-width="1.25"/>
<circle cx="473.4" cy="523.4" r="1.65" fill="#858585" stroke="#000" stroke-width="1.25"/>
<circle cx="470.6" cy="529.5" r="1.7" fill="#fff" stroke="#000" stroke-width="1.15"/>
<circle cx="476.3" cy="529" r="1.65" fill="#000" stroke="#000" stroke-width="1.25"/>
<circle cx="473.8" cy="531.4" r="1.65" fill="#000" stroke="#000" stroke-width="1.25"/>
<circle cx="490" cy="535" r="1.7" fill="#fff" stroke="#000" stroke-width="1.15"/>
<circle cx="494.5" cy="535" r="1.7" fill="#fff" stroke="#000" stroke-width="1.15"/>
<circle cx="505.5" cy="529" r="1.7" fill="#fff" stroke="#000" stroke-width="1.15"/>
<circle cx="501.8" cy="532.8" r="1.7" fill="#fff" stroke="#000" stroke-width="1.15"/>
<path d="M411.1 519.5H418.9M415 513.3V525.2M413.1 513.3H416.9M413.1 525.2H416.9" stroke="#000" stroke-width="1.1" fill="none"/>
<path d="M440.5 507.5H448.3M444.4 495.3V519.5M442.5 495.3H446.3M442.5 519.5H446.3" stroke="#000" stroke-width="1.1" fill="none"/>
<path d="M469.9 519.6H477.7M473.8 505.1V533.3M471.9 505.1H475.7M471.9 533.3H475.7" stroke="#000" stroke-width="1.1" fill="none"/>
<path d="M498.7 532H506.5M502.6 528.3V535M500.7 528.3H504.5M500.7 535H504.5" stroke="#000" stroke-width="1.1" fill="none"/>
<path d="M444.3 481.8V480.5H473V481.8" stroke="#000" stroke-width="1.2" fill="none" stroke-linejoin="miter"/>
<text x="458.65" y="477.8" font-size="7.2" text-anchor="middle">n.s.</text>
<g transform="translate(0 0)">
<path d="M402.4 546.4h3.8M413.1 546.4h3.8M415 544.5v3.8M431.1 546.4h3.8M442.4 546.4h3.8M444.3 544.5v3.8M460.1 546.4h3.8M471.3 546.4h3.8M473.2 544.5v3.8M490.1 546.4h3.8M500.9 546.4h3.8M502.8 544.5v3.8" stroke="#222" stroke-width="0.85" fill="none"/>
<path d="M394.8 551.7H420.9M424.2 551.7H451.8M456.5 551.7H482.6M485.3 551.7H512.4" stroke="#000" stroke-width="1.5" fill="none"/>
<text x="409.7" y="563" font-size="8" text-anchor="middle">CMV<tspan font-size="5" dy="-2.9">−</tspan></text>
<text x="438.4" y="563" font-size="8" text-anchor="middle">CMV<tspan font-size="5" dy="-2.9">+</tspan></text>
<text x="456.8" y="563" font-size="8" textLength="24" lengthAdjust="spacingAndGlyphs">Patient</text>
<text x="483.7" y="563" font-size="8" textLength="28.5" lengthAdjust="spacingAndGlyphs">Asympt.</text>
<path d="M394.8 567.5H451.8M456.5 567.5H512.6" stroke="#000" stroke-width="1.5" fill="none"/>
<text x="423.2" y="580.6" font-size="9.6" text-anchor="middle" textLength="47.3" lengthAdjust="spacingAndGlyphs" style="stroke-width:0.25px">Healthy ctrls</text>
<text x="463.9" y="580.3" font-size="9.4" font-style="italic" textLength="25.8" style="stroke-width:0.22px" lengthAdjust="spacingAndGlyphs">GATA2</text>
<text x="489.9" y="576.9" font-size="6.4" textLength="17.4" lengthAdjust="spacingAndGlyphs">+/mut</text>
</g>
</svg>
</body>
</html>
